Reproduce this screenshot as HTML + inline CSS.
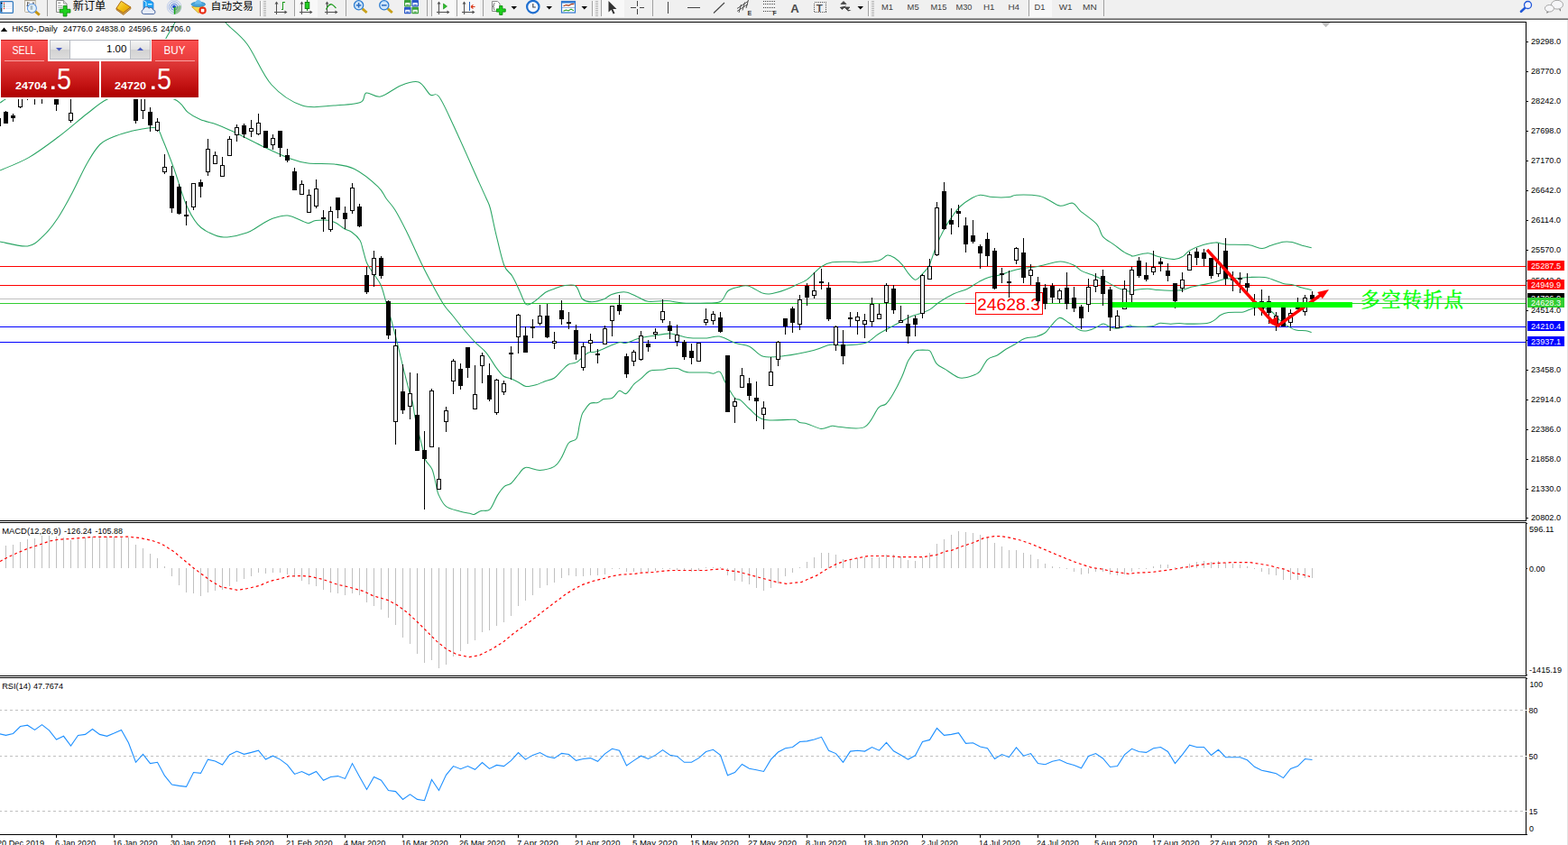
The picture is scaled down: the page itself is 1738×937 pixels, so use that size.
<!DOCTYPE html>
<html><head><meta charset="utf-8"><title>HK50 Daily</title><style>html,body{margin:0;padding:0;background:#fff;overflow:hidden}body{width:1738px;height:937px}</style></head><body>
<svg width="1738" height="937" viewBox="0 0 1738 937" font-family="'Liberation Sans', sans-serif" style="display:block">
<defs>
<clipPath id="cm"><rect x="0" y="25" width="1691" height="552"/></clipPath>
<clipPath id="cd"><rect x="0" y="580" width="1691" height="169"/></clipPath>
<clipPath id="cr"><rect x="0" y="752" width="1691" height="173"/></clipPath>
<linearGradient id="gt" x1="0" y1="0" x2="0" y2="1"><stop offset="0" stop-color="#fb4f4f"/><stop offset="1" stop-color="#e83c3c"/></linearGradient>
<linearGradient id="gb" x1="0" y1="0" x2="0" y2="1"><stop offset="0" stop-color="#e03a3a"/><stop offset="0.55" stop-color="#c81818"/><stop offset="1" stop-color="#ae0000"/></linearGradient>
<linearGradient id="gs" x1="0" y1="0" x2="0" y2="1"><stop offset="0" stop-color="#f4f4f4"/><stop offset="0.5" stop-color="#e2e2e2"/><stop offset="0.5" stop-color="#d2d2d2"/><stop offset="1" stop-color="#dcdcdc"/></linearGradient>
</defs>
<rect x="0" y="0" width="1738" height="937" fill="#fff"/>
<g shape-rendering="crispEdges">
<rect x="0" y="295" width="1691" height="1" fill="#f00"/>
<rect x="0" y="316" width="1691" height="1" fill="#f00"/>
<rect x="0" y="331" width="1691" height="1" fill="#c0c0c0"/>
<rect x="0" y="336" width="1691" height="1" fill="#32cd32"/>
<rect x="0" y="362" width="1691" height="1" fill="#00f"/>
<rect x="0" y="379" width="1691" height="1" fill="#00f"/>
<rect x="1070" y="336" width="12" height="1" fill="#f00"/>
<rect x="1081.5" y="324.5" width="74" height="24" fill="#fff" stroke="#f00" stroke-width="1"/>
</g>
<text x="1083" y="344" font-size="19.2" fill="#f00" textLength="70" lengthAdjust="spacingAndGlyphs">24628.3</text>
<g clip-path="url(#cm)" fill="none" stroke="#2aa564" stroke-width="1.05">
<path d="M0.0 114.0C0.5 113.7 2.0 112.7 3.0 112.0C4.0 111.3 4.5 111.0 6.0 110.0C7.5 109.0 -12.0 108.5 12.0 106.0C36.0 103.5 122.8 102.7 150.0 95.0C177.2 87.3 169.2 68.9 175.0 60.0C180.8 51.1 181.3 47.3 184.5 41.5C187.7 35.7 191.4 29.6 194.0 25.0C196.6 20.4 194.8 21.5 200.0 14.0C205.2 6.5 217.8 -19.3 225.0 -20.0C232.2 -20.7 238.8 2.5 243.0 10.0C247.2 17.5 244.8 18.5 250.0 25.0C255.2 31.5 265.5 37.5 274.0 49.0C282.5 60.5 290.8 82.7 301.0 94.0C311.2 105.3 323.5 113.2 335.0 117.0C346.5 120.8 359.2 117.6 370.0 117.0C380.8 116.4 393.5 115.8 399.5 113.5C405.5 111.2 402.2 104.1 406.0 103.0C409.8 101.9 415.6 108.4 422.0 107.0C428.4 105.6 437.6 97.4 444.6 94.7C451.6 92.0 458.6 89.3 464.0 91.0C469.4 92.7 473.1 102.3 476.8 105.0C480.6 107.7 482.2 101.3 486.5 107.0C490.8 112.7 495.1 122.9 502.6 139.0C510.1 155.1 525.5 190.1 531.6 203.6C537.7 217.1 537.0 215.4 539.0 220.0C541.0 224.6 541.6 224.5 543.4 231.0C545.2 237.5 547.0 248.3 549.6 258.8C552.2 269.3 555.7 286.1 558.7 294.0C561.7 301.9 564.8 301.2 567.7 306.0C570.6 310.8 573.5 317.5 576.0 322.7C578.5 327.9 580.4 335.2 583.0 337.3C585.6 339.4 587.7 337.2 591.4 335.0C595.1 332.8 601.1 326.5 605.0 324.0C608.9 321.5 611.8 321.2 615.0 320.0C618.2 318.8 620.2 317.5 624.0 317.0C627.8 316.5 634.4 314.6 638.0 317.0C641.6 319.4 642.5 328.6 645.5 331.5C648.5 334.4 652.0 334.7 656.0 334.7C660.0 334.7 666.1 332.9 669.8 331.5C673.5 330.1 674.1 327.7 678.0 326.4C681.9 325.1 688.5 323.4 693.4 323.9C698.3 324.4 703.1 327.7 707.2 329.4C711.4 331.1 713.0 333.6 718.3 334.3C723.6 335.0 732.5 333.3 739.0 333.6C745.5 333.9 749.8 335.6 757.2 336.0C764.6 336.4 776.6 336.3 783.5 336.0C790.4 335.7 794.9 336.6 798.8 334.3C802.7 332.1 803.8 325.2 807.0 322.5C810.2 319.8 814.5 319.2 818.2 318.3C821.9 317.4 824.7 315.8 829.3 317.0C833.9 318.2 841.5 323.9 846.0 325.3C850.5 326.7 852.0 326.1 856.0 325.5C860.0 324.9 865.3 323.3 869.9 321.6C874.5 319.9 879.6 317.4 883.7 315.4C887.9 313.4 890.4 313.0 894.8 309.8C899.2 306.6 905.4 299.2 910.0 296.0C914.6 292.8 916.6 291.6 922.6 290.7C928.6 289.8 941.1 290.3 946.2 290.4C951.3 290.4 948.4 291.2 953.0 291.0C957.6 290.8 968.8 290.3 973.9 289.0C979.0 287.7 980.6 283.5 983.6 283.0C986.6 282.5 989.2 284.4 992.0 286.2C994.8 288.0 997.8 291.0 1000.3 293.9C1002.8 296.8 1004.8 300.9 1007.2 303.6C1009.6 306.3 1012.4 310.2 1014.9 310.2C1017.4 310.2 1020.2 305.9 1022.5 303.6C1024.8 301.3 1027.3 298.5 1028.7 296.6C1030.1 294.7 1029.5 296.0 1031.0 292.0C1032.5 288.0 1035.4 278.9 1037.9 272.7C1040.4 266.5 1043.2 260.2 1046.2 254.7C1049.2 249.1 1052.9 243.7 1055.9 239.4C1058.9 235.1 1060.7 232.2 1064.2 229.0C1067.7 225.8 1073.0 222.1 1076.7 220.0C1080.4 217.9 1082.5 216.4 1086.4 216.2C1090.3 216.0 1095.0 218.2 1100.3 218.6C1105.6 219.0 1113.9 219.0 1118.3 218.6C1122.7 218.2 1121.2 216.4 1126.7 216.2C1132.2 216.0 1145.6 216.2 1151.6 217.2C1157.6 218.2 1158.8 220.2 1162.7 222.0C1166.6 223.8 1170.8 227.8 1175.2 228.3C1179.6 228.8 1185.3 224.3 1189.0 225.2C1192.7 226.1 1193.0 229.9 1197.4 233.8C1201.8 237.7 1211.3 243.7 1215.5 248.4C1219.7 253.2 1219.2 258.5 1222.4 262.3C1225.6 266.1 1231.0 268.4 1234.9 271.3C1238.8 274.2 1242.8 277.6 1246.0 279.6C1249.2 281.6 1252.6 282.7 1254.3 283.4C1256.0 284.1 1253.0 284.3 1256.0 283.9C1259.0 283.4 1268.0 280.6 1272.6 280.7C1277.2 280.8 1278.8 283.5 1283.7 284.6C1288.6 285.8 1297.2 287.7 1301.8 287.6C1306.4 287.5 1308.7 285.7 1311.5 284.1C1314.3 282.5 1314.7 280.0 1318.4 277.9C1322.1 275.8 1328.8 273.1 1333.7 271.6C1338.6 270.1 1343.4 269.0 1347.6 268.9C1351.8 268.8 1352.7 270.6 1358.7 271.0C1364.7 271.4 1376.9 270.9 1383.6 271.6C1390.3 272.4 1394.7 275.4 1398.9 275.5C1403.1 275.6 1404.7 273.5 1408.6 272.3C1412.5 271.1 1418.6 268.8 1422.5 268.2C1426.4 267.6 1428.7 267.8 1432.2 268.5C1435.7 269.2 1439.7 271.3 1443.3 272.3C1446.9 273.3 1452.0 274.3 1453.7 274.7"/>
<path d="M0.0 189.0C5.3 186.6 21.3 180.8 32.0 174.6C42.7 168.4 53.6 160.1 64.4 152.0C75.2 143.9 87.5 133.0 96.6 126.0C105.7 119.0 110.1 114.3 119.0 110.0C127.9 105.7 137.7 100.0 150.0 100.0C162.3 100.0 183.3 106.0 193.0 110.0C202.7 114.0 203.2 120.5 208.0 124.3C212.8 128.1 216.7 130.3 222.0 132.6C227.3 134.9 234.1 135.8 240.0 138.0C245.9 140.2 249.4 141.7 257.7 145.6C266.0 149.5 279.3 156.6 290.0 161.7C300.7 166.8 313.4 172.8 322.0 176.0C330.6 179.2 333.4 180.0 341.5 181.0C349.6 182.0 361.9 180.9 370.5 182.0C379.1 183.1 384.9 183.4 393.0 187.5C401.1 191.6 413.0 201.4 418.8 206.8C424.6 212.2 424.8 215.6 428.0 220.0C431.2 224.4 434.2 226.8 438.0 233.0C441.8 239.2 446.0 247.4 451.0 257.5C456.0 267.6 463.0 283.6 467.8 293.5C472.6 303.4 476.0 309.6 480.0 317.0C484.0 324.4 488.4 332.5 492.0 338.0C495.6 343.5 498.6 346.1 501.8 350.0C505.0 353.9 507.1 356.9 511.0 361.6C515.0 366.3 520.9 373.4 525.5 378.3C530.1 383.2 534.7 386.0 538.7 390.8C542.8 395.6 546.6 403.0 549.8 407.4C553.0 411.8 555.2 414.9 558.0 417.0C560.8 419.1 563.7 418.8 566.5 420.0C569.3 421.2 572.0 422.6 574.8 424.0C577.5 425.4 579.8 428.0 583.0 428.5C586.2 429.0 590.8 427.7 594.0 426.8C597.2 425.9 599.1 424.7 602.5 423.4C605.9 422.1 611.0 421.2 614.3 419.2C617.5 417.2 619.3 414.1 622.0 411.6C624.7 409.1 627.4 405.7 630.3 404.0C633.2 402.3 635.7 403.7 639.3 401.6C642.9 399.5 648.0 393.2 651.7 391.2C655.4 389.2 656.0 391.7 661.5 389.8C667.0 387.9 679.7 381.6 685.0 380.0C690.3 378.4 689.7 381.2 693.4 380.5C697.1 379.8 702.1 376.9 707.2 375.5C712.3 374.1 717.9 373.3 723.9 372.4C729.9 371.5 736.8 369.5 743.3 369.9C749.8 370.2 756.0 373.7 762.7 374.5C769.4 375.3 777.7 375.1 783.5 374.9C789.3 374.7 792.1 372.2 797.4 373.1C802.7 374.0 809.8 378.6 815.4 380.5C821.0 382.4 825.7 381.7 830.8 384.2C835.9 386.7 839.5 393.6 846.0 395.3C852.5 397.0 860.4 395.7 869.7 394.6C879.0 393.5 893.9 390.4 901.8 388.5C909.7 386.6 913.1 384.1 917.0 383.0C920.9 381.9 922.6 382.0 925.4 382.0C928.2 382.0 928.2 383.2 933.7 383.0C939.2 382.8 952.0 382.7 958.7 380.6C965.4 378.5 967.9 373.8 973.9 370.2C979.9 366.6 988.9 361.9 994.7 358.8C1000.5 355.7 1004.4 353.2 1008.6 351.4C1012.8 349.5 1016.0 349.1 1019.7 347.7C1023.4 346.3 1027.3 345.1 1030.8 343.1C1034.3 341.1 1036.1 338.4 1040.5 335.5C1044.9 332.6 1051.9 328.4 1057.2 325.8C1062.5 323.2 1067.8 322.4 1072.4 320.2C1077.0 318.0 1081.0 314.7 1084.9 312.6C1088.9 310.5 1091.9 308.7 1096.1 307.4C1100.3 306.1 1105.8 305.8 1110.0 304.6C1114.2 303.4 1117.4 301.5 1121.1 300.4C1124.8 299.2 1128.0 298.4 1132.2 297.7C1136.4 297.0 1142.3 296.8 1146.0 296.3C1149.7 295.8 1149.5 295.7 1154.4 294.6C1159.3 293.6 1169.2 290.1 1175.2 290.0C1181.2 289.9 1186.6 292.5 1190.5 294.2C1194.4 295.9 1195.6 298.7 1198.8 300.4C1202.0 302.1 1206.2 303.1 1209.9 304.6C1213.6 306.1 1216.8 307.3 1220.9 309.4C1225.0 311.5 1231.0 315.1 1234.7 317.0C1238.4 318.9 1240.0 319.8 1243.0 320.8C1246.0 321.9 1250.0 323.2 1252.8 323.3C1255.6 323.4 1256.4 321.7 1259.7 321.2C1263.0 320.7 1268.6 320.1 1272.6 320.2C1276.6 320.3 1279.3 321.2 1283.7 321.6C1288.1 322.0 1294.4 322.4 1299.0 322.3C1303.6 322.2 1307.8 322.0 1311.5 321.3C1315.2 320.6 1317.5 319.1 1321.2 318.1C1324.9 317.2 1329.8 316.4 1333.7 315.6C1337.6 314.8 1341.1 314.3 1344.8 313.3C1348.5 312.3 1352.2 310.6 1355.9 309.8C1359.6 309.1 1361.9 309.2 1367.0 308.8C1372.1 308.4 1380.6 307.6 1386.4 307.4C1392.2 307.2 1397.8 307.0 1401.7 307.4C1405.6 307.8 1406.5 308.6 1410.0 309.8C1413.5 311.0 1418.6 313.4 1422.5 314.4C1426.4 315.4 1430.1 315.2 1433.6 316.0C1437.1 316.8 1439.9 318.2 1443.3 319.1C1446.7 320.0 1452.0 321.2 1453.7 321.6"/>
<path d="M0.0 268.0C5.1 268.8 22.6 274.0 30.6 272.9C38.6 271.8 42.4 266.8 48.0 261.6C53.6 256.5 58.6 250.1 64.0 242.0C69.4 233.9 75.1 223.2 80.5 213.0C85.9 202.8 91.5 189.8 96.6 181.0C101.7 172.2 105.6 165.1 111.0 160.0C116.4 154.9 123.3 152.9 129.0 150.5C134.7 148.1 139.7 146.9 145.0 145.6C150.3 144.2 156.2 142.9 161.0 142.4C165.8 141.9 170.8 140.3 174.0 142.4C177.2 144.5 177.2 147.5 180.4 155.0C183.6 162.5 188.7 175.7 193.0 187.5C197.3 199.3 201.7 215.8 206.0 226.0C210.3 236.2 214.7 243.4 219.0 248.7C223.3 254.0 227.2 255.6 232.0 258.0C236.8 260.4 241.0 263.0 248.0 263.0C255.0 263.0 266.8 260.4 273.8 258.0C280.8 255.6 285.2 251.4 290.0 248.7C294.8 246.0 298.0 243.6 302.8 242.0C307.6 240.4 313.5 238.4 319.0 239.0C324.5 239.6 332.2 244.0 336.0 245.4C339.8 246.8 339.7 247.6 342.0 247.5C344.3 247.4 346.4 245.1 350.0 244.6C353.6 244.1 360.0 243.9 363.7 244.3C367.4 244.7 369.0 245.4 372.0 247.0C375.0 248.6 378.8 251.9 381.8 253.7C384.8 255.4 387.1 255.4 390.0 257.5C392.9 259.6 396.9 263.1 399.0 266.5C401.1 269.9 401.3 273.8 402.6 278.0C403.9 282.2 405.0 287.8 406.8 292.0C408.6 296.2 411.2 299.1 413.7 303.0C416.2 306.9 419.7 310.6 422.0 315.7C424.3 320.8 425.7 327.5 427.6 333.8C429.5 340.1 431.2 345.7 433.3 353.3C435.4 360.9 437.9 370.4 440.2 379.7C442.5 388.9 444.9 399.6 447.2 408.8C449.5 418.0 452.3 428.6 454.0 435.0C455.7 441.4 456.7 442.7 457.6 447.0C458.6 451.3 458.4 454.6 459.7 460.8C461.0 467.0 463.6 477.7 465.2 484.4C466.8 491.1 468.3 496.6 469.4 501.0C470.5 505.4 470.4 507.6 472.0 510.8C473.6 514.0 477.1 516.1 479.0 520.5C480.9 524.9 482.0 532.4 483.2 537.0C484.4 541.6 484.1 544.1 486.0 548.2C487.9 552.3 490.4 558.3 494.3 561.4C498.2 564.5 505.0 565.6 509.6 567.0C514.2 568.4 519.4 569.1 522.0 569.7C524.6 570.3 523.6 570.9 525.5 570.4C527.4 569.9 530.3 567.4 533.2 566.5C536.1 565.6 540.0 567.7 543.0 564.9C546.0 562.1 548.6 553.8 551.2 549.6C553.8 545.4 556.2 541.9 558.8 539.6C561.3 537.3 563.8 538.3 566.5 536.0C569.2 533.7 572.1 528.9 574.8 526.0C577.4 523.1 578.5 519.2 582.4 518.4C586.3 517.6 593.1 521.6 598.4 521.4C603.7 521.2 610.4 519.6 614.3 517.4C618.2 515.2 619.3 512.4 622.0 508.0C624.7 503.6 627.5 494.9 630.3 491.3C633.1 487.7 636.9 489.9 638.9 486.5C640.9 483.1 641.3 475.6 642.3 471.1C643.3 466.6 644.1 462.3 645.1 459.6C646.1 456.9 646.5 456.9 648.0 454.8C649.5 452.8 651.9 448.7 654.3 447.3C656.7 445.9 659.9 447.2 662.4 446.4C664.9 445.6 666.5 443.5 669.2 442.6C671.9 441.8 675.9 442.9 678.8 441.3C681.7 439.8 684.0 434.1 686.5 433.3C689.0 432.5 691.4 437.7 694.1 436.5C696.8 435.3 700.2 428.5 702.8 425.9C705.4 423.3 706.8 423.0 709.5 420.7C712.2 418.4 716.5 413.7 719.1 412.0C721.7 410.3 722.2 410.7 724.9 410.4C727.6 410.1 732.7 410.4 735.4 410.1C738.1 409.8 738.6 408.9 741.2 408.6C743.8 408.4 748.1 408.1 750.8 408.6C753.5 409.1 755.3 410.8 757.5 411.5C759.7 412.2 759.7 412.8 764.0 413.0C768.3 413.2 779.1 412.8 783.5 413.0C787.9 413.2 788.1 414.4 790.5 414.3C792.9 414.2 795.8 410.8 798.0 412.4C800.2 414.0 801.1 418.9 803.8 423.7C806.5 428.5 811.3 437.6 814.2 441.0C817.1 444.4 818.2 441.7 821.0 443.8C823.8 445.9 826.5 449.9 830.8 453.5C835.1 457.1 838.7 463.3 846.8 465.3C854.9 467.3 872.8 464.8 879.4 465.3C886.0 465.8 883.8 467.7 886.3 468.5C888.8 469.3 890.8 468.8 894.7 469.9C898.7 471.0 905.4 475.0 910.0 475.4C914.6 475.8 918.7 472.6 922.4 472.3C926.1 472.0 926.0 473.4 932.0 473.6C938.0 473.8 951.5 477.0 958.5 473.4C965.5 469.8 969.8 456.3 973.7 452.1C977.6 447.9 979.3 450.6 982.0 448.0C984.7 445.4 987.1 441.8 990.0 436.8C992.9 431.8 997.0 423.7 999.6 418.0C1002.2 412.3 1004.0 406.0 1005.4 402.7C1006.8 399.4 1006.4 400.5 1007.8 398.3C1009.2 396.1 1012.2 391.4 1014.0 389.7C1015.8 388.0 1016.7 388.5 1018.8 388.3C1020.9 388.1 1024.4 388.1 1026.5 388.3C1028.6 388.5 1029.4 387.2 1031.3 389.7C1033.2 392.2 1035.3 399.8 1038.0 403.1C1040.7 406.4 1043.6 406.8 1047.6 409.4C1051.6 412.0 1058.0 417.0 1062.0 418.5C1066.0 420.0 1068.8 418.9 1071.7 418.5C1074.6 418.1 1076.9 417.2 1079.3 416.1C1081.7 415.0 1083.5 414.7 1086.1 411.8C1088.7 408.9 1091.5 401.6 1094.7 398.6C1097.9 395.6 1101.9 395.9 1105.3 394.0C1108.7 392.1 1111.7 389.3 1114.9 387.3C1118.1 385.3 1121.0 384.0 1124.5 382.0C1128.0 380.0 1132.0 376.8 1136.0 375.3C1140.0 373.8 1145.0 374.2 1148.7 373.2C1152.4 372.1 1155.6 371.1 1158.4 369.0C1161.2 366.9 1162.7 363.6 1165.4 360.8C1168.1 358.0 1171.2 352.9 1174.4 352.4C1177.6 351.9 1181.0 355.7 1184.8 358.0C1188.6 360.3 1193.6 364.9 1197.3 366.3C1201.0 367.7 1204.0 366.9 1207.0 366.3C1210.0 365.7 1212.6 364.0 1215.3 362.8C1218.0 361.6 1220.7 359.1 1223.0 359.0C1225.3 358.9 1227.0 361.2 1229.2 362.1C1231.4 363.0 1233.8 364.0 1236.1 364.2C1238.4 364.4 1240.2 364.1 1243.0 363.5C1245.8 362.9 1250.6 361.0 1252.8 360.8C1255.0 360.6 1252.0 361.9 1256.0 362.1C1260.0 362.3 1272.0 362.4 1276.8 361.8C1281.6 361.2 1281.6 358.8 1285.1 358.4C1288.6 358.0 1293.9 359.3 1297.6 359.3C1301.3 359.3 1304.3 358.4 1307.3 358.4C1310.3 358.4 1310.6 359.1 1315.7 359.1C1320.8 359.1 1332.8 359.1 1337.9 358.4C1343.0 357.7 1343.7 356.4 1346.2 354.9C1348.7 353.4 1350.6 350.7 1353.1 349.3C1355.6 347.9 1357.2 347.2 1361.4 346.6C1365.6 346.0 1373.5 346.7 1378.1 345.9C1382.7 345.1 1385.5 342.5 1389.2 341.7C1392.9 340.9 1396.5 340.3 1400.0 341.0C1403.5 341.7 1407.0 343.7 1410.0 346.0C1413.0 348.3 1415.5 352.4 1418.3 354.9C1421.1 357.4 1423.6 359.2 1426.6 361.1C1429.6 363.0 1432.9 365.1 1436.4 366.0C1439.9 366.9 1444.6 366.3 1447.5 366.7C1450.4 367.1 1452.7 368.2 1453.7 368.5"/>
</g>
<g shape-rendering="crispEdges" clip-path="url(#cm)">
<rect x="-2" y="131" width="1" height="9" fill="#000"/>
<rect x="-4" y="131" width="5" height="9" fill="#000"/>
<rect x="6" y="123" width="1" height="14" fill="#000"/>
<rect x="4" y="124" width="5" height="13" fill="#000"/>
<rect x="14" y="126" width="1" height="9" fill="#000"/>
<rect x="12" y="128" width="5" height="3" fill="#000"/>
<rect x="22" y="100" width="1" height="20" fill="#000"/>
<rect x="20" y="100" width="5" height="19" fill="#000"/>
<rect x="21" y="101" width="3" height="17" fill="#fff"/>
<rect x="30" y="100" width="1" height="11" fill="#000"/>
<rect x="28" y="100" width="5" height="5" fill="#000"/>
<rect x="29" y="101" width="3" height="3" fill="#fff"/>
<rect x="38" y="100" width="1" height="16" fill="#000"/>
<rect x="36" y="100" width="5" height="8" fill="#000"/>
<rect x="37" y="101" width="3" height="6" fill="#fff"/>
<rect x="46" y="100" width="1" height="15" fill="#000"/>
<rect x="44" y="100" width="5" height="8" fill="#000"/>
<rect x="45" y="101" width="3" height="6" fill="#fff"/>
<rect x="62" y="100" width="1" height="23" fill="#000"/>
<rect x="60" y="100" width="5" height="16" fill="#000"/>
<rect x="78" y="100" width="1" height="36" fill="#000"/>
<rect x="76" y="125" width="5" height="9" fill="#000"/>
<rect x="77" y="126" width="3" height="7" fill="#fff"/>
<rect x="150" y="100" width="1" height="37" fill="#000"/>
<rect x="148" y="100" width="5" height="34" fill="#000"/>
<rect x="158" y="100" width="1" height="32" fill="#000"/>
<rect x="156" y="100" width="5" height="23" fill="#000"/>
<rect x="157" y="101" width="3" height="21" fill="#fff"/>
<rect x="166" y="119" width="1" height="27" fill="#000"/>
<rect x="164" y="124" width="5" height="15" fill="#000"/>
<rect x="174" y="131" width="1" height="15" fill="#000"/>
<rect x="172" y="135" width="5" height="10" fill="#000"/>
<rect x="173" y="136" width="3" height="8" fill="#fff"/>
<rect x="182" y="171" width="1" height="22" fill="#000"/>
<rect x="180" y="185" width="5" height="6" fill="#000"/>
<rect x="181" y="186" width="3" height="4" fill="#fff"/>
<rect x="190" y="184" width="1" height="52" fill="#000"/>
<rect x="188" y="195" width="5" height="36" fill="#000"/>
<rect x="198" y="204" width="1" height="34" fill="#000"/>
<rect x="196" y="207" width="5" height="30" fill="#000"/>
<rect x="206" y="223" width="1" height="27" fill="#000"/>
<rect x="204" y="238" width="5" height="2" fill="#000"/>
<rect x="214" y="203" width="1" height="30" fill="#000"/>
<rect x="212" y="203" width="5" height="27" fill="#000"/>
<rect x="213" y="204" width="3" height="25" fill="#fff"/>
<rect x="222" y="199" width="1" height="20" fill="#000"/>
<rect x="220" y="202" width="5" height="5" fill="#000"/>
<rect x="230" y="154" width="1" height="41" fill="#000"/>
<rect x="228" y="165" width="5" height="26" fill="#000"/>
<rect x="229" y="166" width="3" height="24" fill="#fff"/>
<rect x="238" y="168" width="1" height="14" fill="#000"/>
<rect x="236" y="172" width="5" height="10" fill="#000"/>
<rect x="237" y="173" width="3" height="8" fill="#fff"/>
<rect x="246" y="174" width="1" height="22" fill="#000"/>
<rect x="244" y="183" width="5" height="13" fill="#000"/>
<rect x="245" y="184" width="3" height="11" fill="#fff"/>
<rect x="254" y="151" width="1" height="22" fill="#000"/>
<rect x="252" y="154" width="5" height="19" fill="#000"/>
<rect x="253" y="155" width="3" height="17" fill="#fff"/>
<rect x="262" y="138" width="1" height="19" fill="#000"/>
<rect x="260" y="141" width="5" height="9" fill="#000"/>
<rect x="261" y="142" width="3" height="7" fill="#fff"/>
<rect x="270" y="137" width="1" height="16" fill="#000"/>
<rect x="268" y="139" width="5" height="10" fill="#000"/>
<rect x="278" y="133" width="1" height="19" fill="#000"/>
<rect x="276" y="142" width="5" height="4" fill="#000"/>
<rect x="277" y="143" width="3" height="2" fill="#fff"/>
<rect x="286" y="126" width="1" height="24" fill="#000"/>
<rect x="284" y="136" width="5" height="13" fill="#000"/>
<rect x="285" y="137" width="3" height="11" fill="#fff"/>
<rect x="294" y="145" width="1" height="19" fill="#000"/>
<rect x="292" y="145" width="5" height="19" fill="#000"/>
<rect x="302" y="149" width="1" height="17" fill="#000"/>
<rect x="300" y="153" width="5" height="8" fill="#000"/>
<rect x="301" y="154" width="3" height="6" fill="#fff"/>
<rect x="310" y="145" width="1" height="29" fill="#000"/>
<rect x="308" y="145" width="5" height="19" fill="#000"/>
<rect x="318" y="165" width="1" height="15" fill="#000"/>
<rect x="316" y="172" width="5" height="6" fill="#000"/>
<rect x="326" y="186" width="1" height="25" fill="#000"/>
<rect x="324" y="190" width="5" height="21" fill="#000"/>
<rect x="334" y="200" width="1" height="16" fill="#000"/>
<rect x="332" y="204" width="5" height="12" fill="#000"/>
<rect x="333" y="205" width="3" height="10" fill="#fff"/>
<rect x="342" y="210" width="1" height="26" fill="#000"/>
<rect x="340" y="216" width="5" height="20" fill="#000"/>
<rect x="341" y="217" width="3" height="18" fill="#fff"/>
<rect x="350" y="199" width="1" height="32" fill="#000"/>
<rect x="348" y="209" width="5" height="20" fill="#000"/>
<rect x="349" y="210" width="3" height="18" fill="#fff"/>
<rect x="358" y="233" width="1" height="24" fill="#000"/>
<rect x="356" y="241" width="5" height="2" fill="#000"/>
<rect x="366" y="229" width="1" height="28" fill="#000"/>
<rect x="364" y="234" width="5" height="21" fill="#000"/>
<rect x="365" y="235" width="3" height="19" fill="#fff"/>
<rect x="374" y="219" width="1" height="23" fill="#000"/>
<rect x="372" y="219" width="5" height="14" fill="#000"/>
<rect x="382" y="229" width="1" height="25" fill="#000"/>
<rect x="380" y="236" width="5" height="7" fill="#000"/>
<rect x="390" y="203" width="1" height="34" fill="#000"/>
<rect x="388" y="208" width="5" height="26" fill="#000"/>
<rect x="389" y="209" width="3" height="24" fill="#fff"/>
<rect x="398" y="226" width="1" height="26" fill="#000"/>
<rect x="396" y="229" width="5" height="22" fill="#000"/>
<rect x="406" y="296" width="1" height="30" fill="#000"/>
<rect x="404" y="305" width="5" height="19" fill="#000"/>
<rect x="414" y="278" width="1" height="40" fill="#000"/>
<rect x="412" y="286" width="5" height="19" fill="#000"/>
<rect x="413" y="287" width="3" height="17" fill="#fff"/>
<rect x="422" y="284" width="1" height="25" fill="#000"/>
<rect x="420" y="286" width="5" height="20" fill="#000"/>
<rect x="430" y="333" width="1" height="43" fill="#000"/>
<rect x="428" y="334" width="5" height="38" fill="#000"/>
<rect x="438" y="365" width="1" height="128" fill="#000"/>
<rect x="436" y="383" width="5" height="85" fill="#000"/>
<rect x="437" y="384" width="3" height="83" fill="#fff"/>
<rect x="446" y="404" width="1" height="55" fill="#000"/>
<rect x="444" y="434" width="5" height="21" fill="#000"/>
<rect x="454" y="413" width="1" height="52" fill="#000"/>
<rect x="452" y="436" width="5" height="15" fill="#000"/>
<rect x="453" y="437" width="3" height="13" fill="#fff"/>
<rect x="462" y="414" width="1" height="86" fill="#000"/>
<rect x="460" y="460" width="5" height="40" fill="#000"/>
<rect x="470" y="478" width="1" height="87" fill="#000"/>
<rect x="468" y="499" width="5" height="10" fill="#000"/>
<rect x="478" y="431" width="1" height="65" fill="#000"/>
<rect x="476" y="433" width="5" height="63" fill="#000"/>
<rect x="477" y="434" width="3" height="61" fill="#fff"/>
<rect x="486" y="496" width="1" height="47" fill="#000"/>
<rect x="484" y="531" width="5" height="12" fill="#000"/>
<rect x="485" y="532" width="3" height="10" fill="#fff"/>
<rect x="494" y="451" width="1" height="28" fill="#000"/>
<rect x="492" y="455" width="5" height="13" fill="#000"/>
<rect x="493" y="456" width="3" height="11" fill="#fff"/>
<rect x="502" y="398" width="1" height="39" fill="#000"/>
<rect x="500" y="400" width="5" height="23" fill="#000"/>
<rect x="501" y="401" width="3" height="21" fill="#fff"/>
<rect x="510" y="403" width="1" height="29" fill="#000"/>
<rect x="508" y="409" width="5" height="19" fill="#000"/>
<rect x="518" y="385" width="1" height="34" fill="#000"/>
<rect x="516" y="385" width="5" height="23" fill="#000"/>
<rect x="526" y="405" width="1" height="49" fill="#000"/>
<rect x="524" y="437" width="5" height="17" fill="#000"/>
<rect x="525" y="438" width="3" height="15" fill="#fff"/>
<rect x="534" y="391" width="1" height="34" fill="#000"/>
<rect x="532" y="394" width="5" height="12" fill="#000"/>
<rect x="533" y="395" width="3" height="10" fill="#fff"/>
<rect x="542" y="403" width="1" height="42" fill="#000"/>
<rect x="540" y="416" width="5" height="27" fill="#000"/>
<rect x="550" y="420" width="1" height="40" fill="#000"/>
<rect x="548" y="421" width="5" height="37" fill="#000"/>
<rect x="549" y="422" width="3" height="35" fill="#fff"/>
<rect x="558" y="422" width="1" height="16" fill="#000"/>
<rect x="556" y="425" width="5" height="10" fill="#000"/>
<rect x="557" y="426" width="3" height="8" fill="#fff"/>
<rect x="566" y="384" width="1" height="37" fill="#000"/>
<rect x="564" y="391" width="5" height="2" fill="#000"/>
<rect x="574" y="348" width="1" height="44" fill="#000"/>
<rect x="572" y="349" width="5" height="25" fill="#000"/>
<rect x="573" y="350" width="3" height="23" fill="#fff"/>
<rect x="582" y="362" width="1" height="29" fill="#000"/>
<rect x="580" y="372" width="5" height="19" fill="#000"/>
<rect x="590" y="354" width="1" height="21" fill="#000"/>
<rect x="588" y="362" width="5" height="2" fill="#000"/>
<rect x="598" y="338" width="1" height="23" fill="#000"/>
<rect x="596" y="350" width="5" height="9" fill="#000"/>
<rect x="597" y="351" width="3" height="7" fill="#fff"/>
<rect x="606" y="337" width="1" height="38" fill="#000"/>
<rect x="604" y="350" width="5" height="24" fill="#000"/>
<rect x="614" y="368" width="1" height="19" fill="#000"/>
<rect x="612" y="378" width="5" height="3" fill="#000"/>
<rect x="613" y="379" width="3" height="1" fill="#fff"/>
<rect x="622" y="333" width="1" height="27" fill="#000"/>
<rect x="620" y="344" width="5" height="10" fill="#000"/>
<rect x="630" y="346" width="1" height="19" fill="#000"/>
<rect x="628" y="357" width="5" height="2" fill="#000"/>
<rect x="638" y="360" width="1" height="39" fill="#000"/>
<rect x="636" y="366" width="5" height="27" fill="#000"/>
<rect x="646" y="380" width="1" height="31" fill="#000"/>
<rect x="644" y="384" width="5" height="24" fill="#000"/>
<rect x="645" y="385" width="3" height="22" fill="#fff"/>
<rect x="654" y="370" width="1" height="20" fill="#000"/>
<rect x="652" y="377" width="5" height="4" fill="#000"/>
<rect x="653" y="378" width="3" height="2" fill="#fff"/>
<rect x="662" y="387" width="1" height="16" fill="#000"/>
<rect x="660" y="392" width="5" height="2" fill="#000"/>
<rect x="670" y="361" width="1" height="21" fill="#000"/>
<rect x="668" y="364" width="5" height="18" fill="#000"/>
<rect x="669" y="365" width="3" height="16" fill="#fff"/>
<rect x="678" y="339" width="1" height="34" fill="#000"/>
<rect x="676" y="339" width="5" height="17" fill="#000"/>
<rect x="677" y="340" width="3" height="15" fill="#fff"/>
<rect x="686" y="327" width="1" height="22" fill="#000"/>
<rect x="684" y="338" width="5" height="7" fill="#000"/>
<rect x="694" y="392" width="1" height="27" fill="#000"/>
<rect x="692" y="395" width="5" height="20" fill="#000"/>
<rect x="702" y="388" width="1" height="18" fill="#000"/>
<rect x="700" y="390" width="5" height="11" fill="#000"/>
<rect x="701" y="391" width="3" height="9" fill="#fff"/>
<rect x="710" y="367" width="1" height="33" fill="#000"/>
<rect x="708" y="372" width="5" height="27" fill="#000"/>
<rect x="709" y="373" width="3" height="25" fill="#fff"/>
<rect x="718" y="377" width="1" height="13" fill="#000"/>
<rect x="716" y="381" width="5" height="4" fill="#000"/>
<rect x="726" y="364" width="1" height="12" fill="#000"/>
<rect x="724" y="368" width="5" height="3" fill="#000"/>
<rect x="725" y="369" width="3" height="1" fill="#fff"/>
<rect x="734" y="332" width="1" height="26" fill="#000"/>
<rect x="732" y="345" width="5" height="10" fill="#000"/>
<rect x="733" y="346" width="3" height="8" fill="#fff"/>
<rect x="742" y="356" width="1" height="20" fill="#000"/>
<rect x="740" y="361" width="5" height="6" fill="#000"/>
<rect x="750" y="360" width="1" height="24" fill="#000"/>
<rect x="748" y="371" width="5" height="8" fill="#000"/>
<rect x="749" y="372" width="3" height="6" fill="#fff"/>
<rect x="758" y="377" width="1" height="22" fill="#000"/>
<rect x="756" y="379" width="5" height="17" fill="#000"/>
<rect x="766" y="381" width="1" height="23" fill="#000"/>
<rect x="764" y="389" width="5" height="8" fill="#000"/>
<rect x="774" y="380" width="1" height="21" fill="#000"/>
<rect x="772" y="380" width="5" height="21" fill="#000"/>
<rect x="773" y="381" width="3" height="19" fill="#fff"/>
<rect x="782" y="342" width="1" height="19" fill="#000"/>
<rect x="780" y="354" width="5" height="4" fill="#000"/>
<rect x="781" y="355" width="3" height="2" fill="#fff"/>
<rect x="790" y="345" width="1" height="15" fill="#000"/>
<rect x="788" y="348" width="5" height="8" fill="#000"/>
<rect x="789" y="349" width="3" height="6" fill="#fff"/>
<rect x="798" y="346" width="1" height="23" fill="#000"/>
<rect x="796" y="352" width="5" height="16" fill="#000"/>
<rect x="806" y="394" width="1" height="63" fill="#000"/>
<rect x="804" y="394" width="5" height="63" fill="#000"/>
<rect x="814" y="441" width="1" height="28" fill="#000"/>
<rect x="812" y="445" width="5" height="6" fill="#000"/>
<rect x="813" y="446" width="3" height="4" fill="#fff"/>
<rect x="822" y="408" width="1" height="22" fill="#000"/>
<rect x="820" y="416" width="5" height="14" fill="#000"/>
<rect x="821" y="417" width="3" height="12" fill="#fff"/>
<rect x="830" y="419" width="1" height="25" fill="#000"/>
<rect x="828" y="425" width="5" height="14" fill="#000"/>
<rect x="838" y="423" width="1" height="44" fill="#000"/>
<rect x="836" y="441" width="5" height="4" fill="#000"/>
<rect x="846" y="445" width="1" height="31" fill="#000"/>
<rect x="844" y="452" width="5" height="8" fill="#000"/>
<rect x="845" y="453" width="3" height="6" fill="#fff"/>
<rect x="854" y="396" width="1" height="32" fill="#000"/>
<rect x="852" y="412" width="5" height="16" fill="#000"/>
<rect x="853" y="413" width="3" height="14" fill="#fff"/>
<rect x="862" y="378" width="1" height="28" fill="#000"/>
<rect x="860" y="379" width="5" height="20" fill="#000"/>
<rect x="861" y="380" width="3" height="18" fill="#fff"/>
<rect x="870" y="353" width="1" height="18" fill="#000"/>
<rect x="868" y="353" width="5" height="9" fill="#000"/>
<rect x="878" y="340" width="1" height="29" fill="#000"/>
<rect x="876" y="342" width="5" height="16" fill="#000"/>
<rect x="886" y="327" width="1" height="39" fill="#000"/>
<rect x="884" y="332" width="5" height="28" fill="#000"/>
<rect x="885" y="333" width="3" height="26" fill="#fff"/>
<rect x="894" y="314" width="1" height="25" fill="#000"/>
<rect x="892" y="317" width="5" height="13" fill="#000"/>
<rect x="902" y="302" width="1" height="29" fill="#000"/>
<rect x="900" y="322" width="5" height="6" fill="#000"/>
<rect x="901" y="323" width="3" height="4" fill="#fff"/>
<rect x="910" y="298" width="1" height="23" fill="#000"/>
<rect x="908" y="312" width="5" height="2" fill="#000"/>
<rect x="918" y="313" width="1" height="43" fill="#000"/>
<rect x="916" y="319" width="5" height="35" fill="#000"/>
<rect x="926" y="361" width="1" height="28" fill="#000"/>
<rect x="924" y="362" width="5" height="21" fill="#000"/>
<rect x="925" y="363" width="3" height="19" fill="#fff"/>
<rect x="934" y="366" width="1" height="38" fill="#000"/>
<rect x="932" y="382" width="5" height="13" fill="#000"/>
<rect x="942" y="346" width="1" height="16" fill="#000"/>
<rect x="940" y="352" width="5" height="2" fill="#000"/>
<rect x="950" y="346" width="1" height="25" fill="#000"/>
<rect x="948" y="351" width="5" height="5" fill="#000"/>
<rect x="949" y="352" width="3" height="3" fill="#fff"/>
<rect x="958" y="348" width="1" height="27" fill="#000"/>
<rect x="956" y="355" width="5" height="5" fill="#000"/>
<rect x="957" y="356" width="3" height="3" fill="#fff"/>
<rect x="966" y="330" width="1" height="32" fill="#000"/>
<rect x="964" y="337" width="5" height="20" fill="#000"/>
<rect x="965" y="338" width="3" height="18" fill="#fff"/>
<rect x="974" y="337" width="1" height="17" fill="#000"/>
<rect x="972" y="348" width="5" height="6" fill="#000"/>
<rect x="973" y="349" width="3" height="4" fill="#fff"/>
<rect x="982" y="314" width="1" height="54" fill="#000"/>
<rect x="980" y="316" width="5" height="20" fill="#000"/>
<rect x="981" y="317" width="3" height="18" fill="#fff"/>
<rect x="990" y="316" width="1" height="32" fill="#000"/>
<rect x="988" y="320" width="5" height="24" fill="#000"/>
<rect x="998" y="339" width="1" height="19" fill="#000"/>
<rect x="996" y="355" width="5" height="3" fill="#000"/>
<rect x="997" y="356" width="3" height="1" fill="#fff"/>
<rect x="1006" y="349" width="1" height="32" fill="#000"/>
<rect x="1004" y="359" width="5" height="14" fill="#000"/>
<rect x="1014" y="350" width="1" height="23" fill="#000"/>
<rect x="1012" y="353" width="5" height="7" fill="#000"/>
<rect x="1022" y="304" width="1" height="49" fill="#000"/>
<rect x="1020" y="305" width="5" height="43" fill="#000"/>
<rect x="1021" y="306" width="3" height="41" fill="#fff"/>
<rect x="1030" y="287" width="1" height="23" fill="#000"/>
<rect x="1028" y="295" width="5" height="15" fill="#000"/>
<rect x="1029" y="296" width="3" height="13" fill="#fff"/>
<rect x="1038" y="224" width="1" height="60" fill="#000"/>
<rect x="1036" y="230" width="5" height="53" fill="#000"/>
<rect x="1037" y="231" width="3" height="51" fill="#fff"/>
<rect x="1046" y="202" width="1" height="53" fill="#000"/>
<rect x="1044" y="212" width="5" height="42" fill="#000"/>
<rect x="1054" y="231" width="1" height="29" fill="#000"/>
<rect x="1052" y="244" width="5" height="5" fill="#000"/>
<rect x="1062" y="227" width="1" height="25" fill="#000"/>
<rect x="1060" y="234" width="5" height="3" fill="#000"/>
<rect x="1070" y="241" width="1" height="39" fill="#000"/>
<rect x="1068" y="250" width="5" height="21" fill="#000"/>
<rect x="1078" y="244" width="1" height="26" fill="#000"/>
<rect x="1076" y="261" width="5" height="7" fill="#000"/>
<rect x="1086" y="271" width="1" height="27" fill="#000"/>
<rect x="1084" y="273" width="5" height="8" fill="#000"/>
<rect x="1094" y="258" width="1" height="37" fill="#000"/>
<rect x="1092" y="265" width="5" height="19" fill="#000"/>
<rect x="1102" y="275" width="1" height="46" fill="#000"/>
<rect x="1100" y="278" width="5" height="42" fill="#000"/>
<rect x="1110" y="297" width="1" height="17" fill="#000"/>
<rect x="1108" y="303" width="5" height="2" fill="#000"/>
<rect x="1118" y="300" width="1" height="30" fill="#000"/>
<rect x="1116" y="312" width="5" height="2" fill="#000"/>
<rect x="1126" y="274" width="1" height="19" fill="#000"/>
<rect x="1124" y="275" width="5" height="14" fill="#000"/>
<rect x="1125" y="276" width="3" height="12" fill="#fff"/>
<rect x="1134" y="264" width="1" height="50" fill="#000"/>
<rect x="1132" y="280" width="5" height="28" fill="#000"/>
<rect x="1142" y="293" width="1" height="23" fill="#000"/>
<rect x="1140" y="299" width="5" height="7" fill="#000"/>
<rect x="1141" y="300" width="3" height="5" fill="#fff"/>
<rect x="1150" y="307" width="1" height="31" fill="#000"/>
<rect x="1148" y="313" width="5" height="21" fill="#000"/>
<rect x="1158" y="315" width="1" height="28" fill="#000"/>
<rect x="1156" y="319" width="5" height="18" fill="#000"/>
<rect x="1166" y="314" width="1" height="22" fill="#000"/>
<rect x="1164" y="317" width="5" height="13" fill="#000"/>
<rect x="1174" y="320" width="1" height="16" fill="#000"/>
<rect x="1172" y="322" width="5" height="10" fill="#000"/>
<rect x="1173" y="323" width="3" height="8" fill="#fff"/>
<rect x="1182" y="302" width="1" height="41" fill="#000"/>
<rect x="1180" y="319" width="5" height="18" fill="#000"/>
<rect x="1190" y="318" width="1" height="28" fill="#000"/>
<rect x="1188" y="330" width="5" height="12" fill="#000"/>
<rect x="1198" y="338" width="1" height="27" fill="#000"/>
<rect x="1196" y="340" width="5" height="13" fill="#000"/>
<rect x="1206" y="309" width="1" height="37" fill="#000"/>
<rect x="1204" y="318" width="5" height="20" fill="#000"/>
<rect x="1205" y="319" width="3" height="18" fill="#fff"/>
<rect x="1214" y="303" width="1" height="21" fill="#000"/>
<rect x="1212" y="310" width="5" height="8" fill="#000"/>
<rect x="1213" y="311" width="3" height="6" fill="#fff"/>
<rect x="1222" y="299" width="1" height="40" fill="#000"/>
<rect x="1220" y="306" width="5" height="20" fill="#000"/>
<rect x="1230" y="318" width="1" height="49" fill="#000"/>
<rect x="1228" y="321" width="5" height="31" fill="#000"/>
<rect x="1238" y="344" width="1" height="20" fill="#000"/>
<rect x="1236" y="350" width="5" height="14" fill="#000"/>
<rect x="1237" y="351" width="3" height="12" fill="#fff"/>
<rect x="1246" y="311" width="1" height="32" fill="#000"/>
<rect x="1244" y="320" width="5" height="23" fill="#000"/>
<rect x="1245" y="321" width="3" height="21" fill="#fff"/>
<rect x="1254" y="296" width="1" height="39" fill="#000"/>
<rect x="1252" y="299" width="5" height="28" fill="#000"/>
<rect x="1253" y="300" width="3" height="26" fill="#fff"/>
<rect x="1262" y="285" width="1" height="23" fill="#000"/>
<rect x="1260" y="289" width="5" height="17" fill="#000"/>
<rect x="1270" y="291" width="1" height="21" fill="#000"/>
<rect x="1268" y="305" width="5" height="5" fill="#000"/>
<rect x="1278" y="278" width="1" height="27" fill="#000"/>
<rect x="1276" y="296" width="5" height="6" fill="#000"/>
<rect x="1277" y="297" width="3" height="4" fill="#fff"/>
<rect x="1286" y="286" width="1" height="15" fill="#000"/>
<rect x="1284" y="290" width="5" height="3" fill="#000"/>
<rect x="1294" y="292" width="1" height="20" fill="#000"/>
<rect x="1292" y="300" width="5" height="6" fill="#000"/>
<rect x="1302" y="314" width="1" height="28" fill="#000"/>
<rect x="1300" y="314" width="5" height="20" fill="#000"/>
<rect x="1310" y="302" width="1" height="22" fill="#000"/>
<rect x="1308" y="310" width="5" height="10" fill="#000"/>
<rect x="1309" y="311" width="3" height="8" fill="#fff"/>
<rect x="1318" y="279" width="1" height="21" fill="#000"/>
<rect x="1316" y="282" width="5" height="18" fill="#000"/>
<rect x="1317" y="283" width="3" height="16" fill="#fff"/>
<rect x="1326" y="275" width="1" height="19" fill="#000"/>
<rect x="1324" y="279" width="5" height="7" fill="#000"/>
<rect x="1334" y="276" width="1" height="19" fill="#000"/>
<rect x="1332" y="280" width="5" height="7" fill="#000"/>
<rect x="1342" y="286" width="1" height="23" fill="#000"/>
<rect x="1340" y="286" width="5" height="20" fill="#000"/>
<rect x="1350" y="270" width="1" height="37" fill="#000"/>
<rect x="1348" y="291" width="5" height="13" fill="#000"/>
<rect x="1349" y="292" width="3" height="11" fill="#fff"/>
<rect x="1358" y="264" width="1" height="52" fill="#000"/>
<rect x="1356" y="278" width="5" height="31" fill="#000"/>
<rect x="1366" y="301" width="1" height="22" fill="#000"/>
<rect x="1364" y="308" width="5" height="3" fill="#000"/>
<rect x="1365" y="309" width="3" height="1" fill="#fff"/>
<rect x="1374" y="302" width="1" height="23" fill="#000"/>
<rect x="1372" y="308" width="5" height="2" fill="#000"/>
<rect x="1382" y="303" width="1" height="25" fill="#000"/>
<rect x="1380" y="314" width="5" height="5" fill="#000"/>
<rect x="1390" y="326" width="1" height="24" fill="#000"/>
<rect x="1388" y="334" width="5" height="3" fill="#000"/>
<rect x="1398" y="321" width="1" height="29" fill="#000"/>
<rect x="1396" y="334" width="5" height="10" fill="#000"/>
<rect x="1406" y="328" width="1" height="31" fill="#000"/>
<rect x="1404" y="334" width="5" height="13" fill="#000"/>
<rect x="1414" y="346" width="1" height="21" fill="#000"/>
<rect x="1412" y="350" width="5" height="11" fill="#000"/>
<rect x="1413" y="351" width="3" height="9" fill="#fff"/>
<rect x="1422" y="335" width="1" height="27" fill="#000"/>
<rect x="1420" y="335" width="5" height="27" fill="#000"/>
<rect x="1430" y="343" width="1" height="19" fill="#000"/>
<rect x="1428" y="347" width="5" height="11" fill="#000"/>
<rect x="1429" y="348" width="3" height="9" fill="#fff"/>
<rect x="1438" y="330" width="1" height="13" fill="#000"/>
<rect x="1436" y="337" width="5" height="6" fill="#000"/>
<rect x="1446" y="327" width="1" height="23" fill="#000"/>
<rect x="1444" y="330" width="5" height="16" fill="#000"/>
<rect x="1445" y="331" width="3" height="14" fill="#fff"/>
<rect x="1454" y="323" width="1" height="9" fill="#000"/>
<rect x="1452" y="327" width="5" height="5" fill="#000"/>
</g>
<g stroke="#f00" stroke-width="3.4" fill="#f00" stroke-linecap="butt">
<line x1="1338" y1="277" x2="1412" y2="358.5"/>
<polygon points="1416.2,362.8 1405.6,357.4 1415.8,350.4" stroke="none"/>
<line x1="1415.5" y1="361.8" x2="1464" y2="327"/>
<polygon points="1473,321 1460.2,324 1465.8,331.2" stroke="none"/>
</g>
<rect x="1233" y="335" width="266" height="6" fill="#00ff00" shape-rendering="crispEdges"/>
<text x="1508.2" y="339.6" font-size="21.4" fill="#00ff00" stroke="#00ff00" stroke-width="0.4" textLength="113.8" lengthAdjust="spacing" style="font-family:'Liberation Serif','Noto Serif CJK SC',serif">多空转折点</text>
<g shape-rendering="crispEdges" clip-path="url(#cd)">
<rect x="6" y="605" width="1" height="25" fill="#c0c0c0"/>
<rect x="14" y="604" width="1" height="26" fill="#c0c0c0"/>
<rect x="22" y="601" width="1" height="29" fill="#c0c0c0"/>
<rect x="30" y="598" width="1" height="32" fill="#c0c0c0"/>
<rect x="38" y="597" width="1" height="33" fill="#c0c0c0"/>
<rect x="46" y="594" width="1" height="36" fill="#c0c0c0"/>
<rect x="54" y="594" width="1" height="36" fill="#c0c0c0"/>
<rect x="62" y="595" width="1" height="35" fill="#c0c0c0"/>
<rect x="70" y="596" width="1" height="34" fill="#c0c0c0"/>
<rect x="78" y="599" width="1" height="31" fill="#c0c0c0"/>
<rect x="86" y="598" width="1" height="32" fill="#c0c0c0"/>
<rect x="94" y="596" width="1" height="34" fill="#c0c0c0"/>
<rect x="102" y="595" width="1" height="35" fill="#c0c0c0"/>
<rect x="110" y="595" width="1" height="35" fill="#c0c0c0"/>
<rect x="118" y="595" width="1" height="35" fill="#c0c0c0"/>
<rect x="126" y="595" width="1" height="35" fill="#c0c0c0"/>
<rect x="134" y="595" width="1" height="35" fill="#c0c0c0"/>
<rect x="142" y="596" width="1" height="34" fill="#c0c0c0"/>
<rect x="150" y="604" width="1" height="26" fill="#c0c0c0"/>
<rect x="158" y="608" width="1" height="22" fill="#c0c0c0"/>
<rect x="166" y="614" width="1" height="16" fill="#c0c0c0"/>
<rect x="174" y="619" width="1" height="11" fill="#c0c0c0"/>
<rect x="182" y="628" width="1" height="2" fill="#c0c0c0"/>
<rect x="190" y="630" width="1" height="9" fill="#c0c0c0"/>
<rect x="198" y="630" width="1" height="19" fill="#c0c0c0"/>
<rect x="206" y="630" width="1" height="27" fill="#c0c0c0"/>
<rect x="214" y="630" width="1" height="28" fill="#c0c0c0"/>
<rect x="222" y="630" width="1" height="31" fill="#c0c0c0"/>
<rect x="230" y="630" width="1" height="27" fill="#c0c0c0"/>
<rect x="238" y="630" width="1" height="25" fill="#c0c0c0"/>
<rect x="246" y="630" width="1" height="24" fill="#c0c0c0"/>
<rect x="254" y="630" width="1" height="20" fill="#c0c0c0"/>
<rect x="262" y="630" width="1" height="15" fill="#c0c0c0"/>
<rect x="270" y="630" width="1" height="12" fill="#c0c0c0"/>
<rect x="278" y="630" width="1" height="9" fill="#c0c0c0"/>
<rect x="286" y="630" width="1" height="5" fill="#c0c0c0"/>
<rect x="294" y="630" width="1" height="6" fill="#c0c0c0"/>
<rect x="302" y="630" width="1" height="5" fill="#c0c0c0"/>
<rect x="310" y="630" width="1" height="5" fill="#c0c0c0"/>
<rect x="318" y="630" width="1" height="7" fill="#c0c0c0"/>
<rect x="326" y="630" width="1" height="10" fill="#c0c0c0"/>
<rect x="334" y="630" width="1" height="14" fill="#c0c0c0"/>
<rect x="342" y="630" width="1" height="18" fill="#c0c0c0"/>
<rect x="350" y="630" width="1" height="20" fill="#c0c0c0"/>
<rect x="358" y="630" width="1" height="24" fill="#c0c0c0"/>
<rect x="366" y="630" width="1" height="27" fill="#c0c0c0"/>
<rect x="374" y="630" width="1" height="28" fill="#c0c0c0"/>
<rect x="382" y="630" width="1" height="30" fill="#c0c0c0"/>
<rect x="390" y="630" width="1" height="28" fill="#c0c0c0"/>
<rect x="398" y="630" width="1" height="30" fill="#c0c0c0"/>
<rect x="406" y="630" width="1" height="38" fill="#c0c0c0"/>
<rect x="414" y="630" width="1" height="42" fill="#c0c0c0"/>
<rect x="422" y="630" width="1" height="46" fill="#c0c0c0"/>
<rect x="430" y="630" width="1" height="55" fill="#c0c0c0"/>
<rect x="438" y="630" width="1" height="63" fill="#c0c0c0"/>
<rect x="446" y="630" width="1" height="77" fill="#c0c0c0"/>
<rect x="454" y="630" width="1" height="84" fill="#c0c0c0"/>
<rect x="462" y="630" width="1" height="95" fill="#c0c0c0"/>
<rect x="470" y="630" width="1" height="105" fill="#c0c0c0"/>
<rect x="478" y="630" width="1" height="102" fill="#c0c0c0"/>
<rect x="486" y="630" width="1" height="111" fill="#c0c0c0"/>
<rect x="494" y="630" width="1" height="107" fill="#c0c0c0"/>
<rect x="502" y="630" width="1" height="98" fill="#c0c0c0"/>
<rect x="510" y="630" width="1" height="92" fill="#c0c0c0"/>
<rect x="518" y="630" width="1" height="84" fill="#c0c0c0"/>
<rect x="526" y="630" width="1" height="80" fill="#c0c0c0"/>
<rect x="534" y="630" width="1" height="71" fill="#c0c0c0"/>
<rect x="542" y="630" width="1" height="69" fill="#c0c0c0"/>
<rect x="550" y="630" width="1" height="64" fill="#c0c0c0"/>
<rect x="558" y="630" width="1" height="60" fill="#c0c0c0"/>
<rect x="566" y="630" width="1" height="53" fill="#c0c0c0"/>
<rect x="574" y="630" width="1" height="42" fill="#c0c0c0"/>
<rect x="582" y="630" width="1" height="36" fill="#c0c0c0"/>
<rect x="590" y="630" width="1" height="30" fill="#c0c0c0"/>
<rect x="598" y="630" width="1" height="22" fill="#c0c0c0"/>
<rect x="606" y="630" width="1" height="19" fill="#c0c0c0"/>
<rect x="614" y="630" width="1" height="16" fill="#c0c0c0"/>
<rect x="622" y="630" width="1" height="11" fill="#c0c0c0"/>
<rect x="630" y="630" width="1" height="8" fill="#c0c0c0"/>
<rect x="638" y="630" width="1" height="9" fill="#c0c0c0"/>
<rect x="646" y="630" width="1" height="9" fill="#c0c0c0"/>
<rect x="654" y="630" width="1" height="8" fill="#c0c0c0"/>
<rect x="662" y="630" width="1" height="8" fill="#c0c0c0"/>
<rect x="670" y="630" width="1" height="7" fill="#c0c0c0"/>
<rect x="678" y="630" width="1" height="1" fill="#c0c0c0"/>
<rect x="686" y="630" width="1" height="1" fill="#c0c0c0"/>
<rect x="694" y="630" width="1" height="4" fill="#c0c0c0"/>
<rect x="702" y="630" width="1" height="4" fill="#c0c0c0"/>
<rect x="710" y="630" width="1" height="4" fill="#c0c0c0"/>
<rect x="718" y="630" width="1" height="4" fill="#c0c0c0"/>
<rect x="726" y="630" width="1" height="3" fill="#c0c0c0"/>
<rect x="734" y="630" width="1" height="1" fill="#c0c0c0"/>
<rect x="742" y="630" width="1" height="1" fill="#c0c0c0"/>
<rect x="750" y="630" width="1" height="2" fill="#c0c0c0"/>
<rect x="758" y="630" width="1" height="2" fill="#c0c0c0"/>
<rect x="766" y="630" width="1" height="4" fill="#c0c0c0"/>
<rect x="774" y="630" width="1" height="3" fill="#c0c0c0"/>
<rect x="782" y="629" width="1" height="1" fill="#c0c0c0"/>
<rect x="790" y="629" width="1" height="1" fill="#c0c0c0"/>
<rect x="798" y="629" width="1" height="1" fill="#c0c0c0"/>
<rect x="806" y="630" width="1" height="8" fill="#c0c0c0"/>
<rect x="814" y="630" width="1" height="14" fill="#c0c0c0"/>
<rect x="822" y="630" width="1" height="15" fill="#c0c0c0"/>
<rect x="830" y="630" width="1" height="18" fill="#c0c0c0"/>
<rect x="838" y="630" width="1" height="22" fill="#c0c0c0"/>
<rect x="846" y="630" width="1" height="25" fill="#c0c0c0"/>
<rect x="854" y="630" width="1" height="22" fill="#c0c0c0"/>
<rect x="862" y="630" width="1" height="17" fill="#c0c0c0"/>
<rect x="870" y="630" width="1" height="9" fill="#c0c0c0"/>
<rect x="878" y="630" width="1" height="5" fill="#c0c0c0"/>
<rect x="886" y="629" width="1" height="1" fill="#c0c0c0"/>
<rect x="894" y="623" width="1" height="7" fill="#c0c0c0"/>
<rect x="902" y="618" width="1" height="12" fill="#c0c0c0"/>
<rect x="910" y="613" width="1" height="17" fill="#c0c0c0"/>
<rect x="918" y="613" width="1" height="17" fill="#c0c0c0"/>
<rect x="926" y="615" width="1" height="15" fill="#c0c0c0"/>
<rect x="934" y="620" width="1" height="10" fill="#c0c0c0"/>
<rect x="942" y="620" width="1" height="10" fill="#c0c0c0"/>
<rect x="950" y="619" width="1" height="11" fill="#c0c0c0"/>
<rect x="958" y="618" width="1" height="12" fill="#c0c0c0"/>
<rect x="966" y="618" width="1" height="12" fill="#c0c0c0"/>
<rect x="974" y="618" width="1" height="12" fill="#c0c0c0"/>
<rect x="982" y="615" width="1" height="15" fill="#c0c0c0"/>
<rect x="990" y="615" width="1" height="15" fill="#c0c0c0"/>
<rect x="998" y="617" width="1" height="13" fill="#c0c0c0"/>
<rect x="1006" y="621" width="1" height="9" fill="#c0c0c0"/>
<rect x="1014" y="622" width="1" height="8" fill="#c0c0c0"/>
<rect x="1022" y="618" width="1" height="12" fill="#c0c0c0"/>
<rect x="1030" y="613" width="1" height="17" fill="#c0c0c0"/>
<rect x="1038" y="603" width="1" height="27" fill="#c0c0c0"/>
<rect x="1046" y="598" width="1" height="32" fill="#c0c0c0"/>
<rect x="1054" y="593" width="1" height="37" fill="#c0c0c0"/>
<rect x="1062" y="589" width="1" height="41" fill="#c0c0c0"/>
<rect x="1070" y="590" width="1" height="40" fill="#c0c0c0"/>
<rect x="1078" y="591" width="1" height="39" fill="#c0c0c0"/>
<rect x="1086" y="593" width="1" height="37" fill="#c0c0c0"/>
<rect x="1094" y="596" width="1" height="34" fill="#c0c0c0"/>
<rect x="1102" y="602" width="1" height="28" fill="#c0c0c0"/>
<rect x="1110" y="606" width="1" height="24" fill="#c0c0c0"/>
<rect x="1118" y="610" width="1" height="20" fill="#c0c0c0"/>
<rect x="1126" y="610" width="1" height="20" fill="#c0c0c0"/>
<rect x="1134" y="613" width="1" height="17" fill="#c0c0c0"/>
<rect x="1142" y="615" width="1" height="15" fill="#c0c0c0"/>
<rect x="1150" y="620" width="1" height="10" fill="#c0c0c0"/>
<rect x="1158" y="625" width="1" height="5" fill="#c0c0c0"/>
<rect x="1166" y="628" width="1" height="2" fill="#c0c0c0"/>
<rect x="1174" y="629" width="1" height="1" fill="#c0c0c0"/>
<rect x="1182" y="630" width="1" height="1" fill="#c0c0c0"/>
<rect x="1190" y="630" width="1" height="4" fill="#c0c0c0"/>
<rect x="1198" y="630" width="1" height="7" fill="#c0c0c0"/>
<rect x="1206" y="630" width="1" height="6" fill="#c0c0c0"/>
<rect x="1214" y="630" width="1" height="4" fill="#c0c0c0"/>
<rect x="1222" y="630" width="1" height="4" fill="#c0c0c0"/>
<rect x="1230" y="630" width="1" height="7" fill="#c0c0c0"/>
<rect x="1238" y="630" width="1" height="8" fill="#c0c0c0"/>
<rect x="1246" y="630" width="1" height="7" fill="#c0c0c0"/>
<rect x="1254" y="630" width="1" height="4" fill="#c0c0c0"/>
<rect x="1262" y="630" width="1" height="1" fill="#c0c0c0"/>
<rect x="1270" y="630" width="1" height="1" fill="#c0c0c0"/>
<rect x="1278" y="628" width="1" height="2" fill="#c0c0c0"/>
<rect x="1286" y="626" width="1" height="4" fill="#c0c0c0"/>
<rect x="1294" y="626" width="1" height="4" fill="#c0c0c0"/>
<rect x="1302" y="629" width="1" height="1" fill="#c0c0c0"/>
<rect x="1310" y="628" width="1" height="2" fill="#c0c0c0"/>
<rect x="1318" y="625" width="1" height="5" fill="#c0c0c0"/>
<rect x="1326" y="623" width="1" height="7" fill="#c0c0c0"/>
<rect x="1334" y="622" width="1" height="8" fill="#c0c0c0"/>
<rect x="1342" y="623" width="1" height="7" fill="#c0c0c0"/>
<rect x="1350" y="622" width="1" height="8" fill="#c0c0c0"/>
<rect x="1358" y="624" width="1" height="6" fill="#c0c0c0"/>
<rect x="1366" y="625" width="1" height="5" fill="#c0c0c0"/>
<rect x="1374" y="626" width="1" height="4" fill="#c0c0c0"/>
<rect x="1382" y="628" width="1" height="2" fill="#c0c0c0"/>
<rect x="1390" y="630" width="1" height="1" fill="#c0c0c0"/>
<rect x="1398" y="630" width="1" height="4" fill="#c0c0c0"/>
<rect x="1406" y="630" width="1" height="7" fill="#c0c0c0"/>
<rect x="1414" y="630" width="1" height="8" fill="#c0c0c0"/>
<rect x="1422" y="630" width="1" height="13" fill="#c0c0c0"/>
<rect x="1430" y="630" width="1" height="13" fill="#c0c0c0"/>
<rect x="1438" y="630" width="1" height="13" fill="#c0c0c0"/>
<rect x="1446" y="630" width="1" height="11" fill="#c0c0c0"/>
<rect x="1454" y="630" width="1" height="11" fill="#c0c0c0"/>
</g>
<polyline clip-path="url(#cd)" points="0.0,622.6 6.5,619.0 18.7,613.3 29.9,608.6 46.7,603.0 54.2,600.2 63.5,598.4 78.5,597.4 102.7,595.5 142.0,595.2 155.0,596.5 168.0,599.3 179.0,603.0 192.4,611.4 203.6,620.8 214.8,630.0 222.3,635.7 233.5,644.0 244.7,650.7 254.0,652.5 263.4,654.4 274.6,652.5 287.7,649.4 298.9,644.5 310.0,641.9 320.0,639.0 335.0,638.5 344.3,639.4 357.4,642.3 374.2,648.2 385.4,650.7 402.2,655.3 413.4,660.6 430.2,665.6 439.6,670.6 450.8,678.7 462.0,689.0 473.2,700.2 484.4,711.4 495.6,720.3 506.8,725.9 519.9,728.6 531.1,726.7 544.2,720.3 557.3,712.3 568.5,703.0 581.5,693.6 592.7,685.2 605.8,674.9 617.0,666.5 628.2,658.1 640.0,651.2 645.6,648.4 656.8,644.5 669.9,641.3 677.4,639.1 688.6,637.2 703.5,636.3 711.0,635.2 726.0,634.4 733.4,633.3 744.6,632.5 782.0,632.5 791.3,631.4 800.7,631.0 806.3,632.5 817.5,633.8 826.8,636.3 838.0,639.4 849.2,642.3 860.4,645.4 871.6,647.3 879.1,646.4 888.5,645.4 897.8,641.3 905.3,638.1 916.5,631.0 927.7,625.1 938.9,621.3 950.1,618.9 962.8,616.5 982.4,616.5 997.4,617.6 1023.5,617.6 1038.5,615.2 1047.8,611.4 1055.3,610.1 1064.6,606.4 1072.0,604.0 1079.6,601.5 1090.8,596.5 1102.0,594.6 1109.4,594.6 1120.7,596.5 1131.9,599.3 1145.0,604.0 1156.0,608.6 1169.2,614.2 1180.4,618.9 1193.5,624.0 1204.7,627.7 1210.3,629.5 1221.5,631.0 1230.9,633.3 1240.2,634.8 1251.2,636.3 1258.7,635.3 1277.4,634.4 1284.8,633.3 1296.0,632.0 1311.0,629.5 1322.2,627.7 1333.4,625.8 1348.4,624.5 1367.0,623.6 1385.7,623.6 1396.9,625.4 1408.1,627.3 1415.6,629.5 1423.1,631.0 1434.3,635.7 1443.6,637.0 1452.0,639.4" fill="none" stroke="#f00" stroke-width="1.2" stroke-dasharray="3 3"/>
<g shape-rendering="crispEdges" stroke="#c0c0c0" stroke-dasharray="3 3" stroke-width="1">
<line x1="-1" y1="787.5" x2="1691" y2="787.5"/>
<line x1="-1" y1="838.5" x2="1691" y2="838.5"/>
<line x1="-1" y1="899.5" x2="1691" y2="899.5"/>
</g>
<polyline clip-path="url(#cr)" points="-1.5,813.5 6.5,815.4 14.5,813.5 22.5,805.5 30.5,804.2 38.5,809.4 46.5,803.6 54.5,809.8 62.5,820.0 70.5,816.3 78.5,827.0 86.5,815.4 94.5,814.4 102.5,808.5 110.5,814.4 118.5,816.3 126.5,813.0 134.5,809.4 142.5,823.8 150.5,845.3 158.5,836.3 166.5,846.6 174.5,845.3 182.5,860.2 190.5,870.1 198.5,871.4 206.5,872.4 214.5,856.5 222.5,857.4 230.5,842.1 238.5,844.0 246.5,848.1 254.5,836.9 262.5,833.1 270.5,836.3 278.5,834.4 286.5,832.2 294.5,842.1 302.5,838.2 310.5,842.1 318.5,848.1 326.5,858.4 334.5,855.5 342.5,859.3 350.5,855.5 358.5,865.3 366.5,861.5 374.5,860.6 382.5,863.4 390.5,846.6 398.5,861.2 406.5,875.5 414.5,861.5 422.5,865.3 430.5,876.5 438.5,877.6 446.5,886.4 454.5,880.8 462.5,886.4 470.5,887.7 478.5,864.5 486.5,876.5 494.5,859.3 502.5,849.6 510.5,852.7 518.5,849.6 526.5,853.3 534.5,845.6 542.5,852.4 550.5,848.4 558.5,849.6 566.5,843.4 574.5,834.6 582.5,842.1 590.5,837.4 598.5,834.6 606.5,839.1 614.5,840.6 622.5,835.4 630.5,836.5 638.5,843.4 646.5,841.5 654.5,840.6 662.5,844.3 670.5,835.9 678.5,830.3 686.5,832.2 694.5,849.0 702.5,843.4 710.5,838.2 718.5,841.5 726.5,837.4 734.5,831.6 742.5,837.2 750.5,838.7 758.5,845.3 766.5,845.3 774.5,840.6 782.5,833.5 790.5,831.3 798.5,837.4 806.5,859.7 814.5,856.5 822.5,847.5 830.5,852.2 838.5,853.7 846.5,855.5 854.5,842.1 862.5,834.0 870.5,829.8 878.5,828.5 886.5,822.5 894.5,821.9 902.5,820.0 910.5,817.3 918.5,832.2 926.5,835.6 934.5,845.3 942.5,833.1 950.5,832.2 958.5,833.1 966.5,828.5 974.5,832.2 982.5,823.4 990.5,832.8 998.5,837.2 1006.5,842.1 1014.5,837.8 1022.5,822.5 1030.5,820.4 1038.5,807.5 1046.5,815.4 1054.5,814.4 1062.5,812.6 1070.5,824.4 1078.5,823.8 1086.5,828.1 1094.5,829.8 1102.5,841.5 1110.5,836.5 1118.5,839.7 1126.5,828.8 1134.5,838.2 1142.5,835.6 1150.5,846.6 1158.5,847.7 1166.5,844.3 1174.5,842.5 1182.5,846.2 1190.5,848.4 1198.5,851.8 1206.5,838.4 1214.5,835.6 1222.5,841.0 1230.5,850.5 1238.5,849.6 1246.5,836.9 1254.5,830.3 1262.5,833.5 1270.5,834.4 1278.5,829.8 1286.5,828.5 1294.5,833.5 1302.5,846.6 1310.5,836.9 1318.5,826.2 1326.5,828.5 1334.5,828.5 1342.5,837.4 1350.5,831.3 1358.5,839.7 1366.5,839.7 1374.5,839.7 1382.5,842.8 1390.5,850.3 1398.5,854.2 1406.5,855.9 1414.5,857.8 1422.5,862.6 1430.5,852.4 1438.5,849.6 1446.5,841.5 1454.5,842.5" fill="none" stroke="#1e90ff" stroke-width="1.1"/>
<g shape-rendering="crispEdges">
<rect x="1692" y="25" width="46" height="912" fill="#fff"/>
<rect x="0" y="24" width="1692" height="1" fill="#000"/>
<rect x="1691" y="24" width="1" height="902" fill="#000"/>
<rect x="0" y="577" width="1692" height="1" fill="#000"/>
<rect x="0" y="579" width="1692" height="1" fill="#000"/>
<rect x="0" y="749" width="1692" height="1" fill="#000"/>
<rect x="0" y="751" width="1692" height="1" fill="#000"/>
<rect x="0" y="925" width="1692" height="1" fill="#000"/>
<rect x="1691" y="578" width="4" height="1" fill="#fff"/>
<rect x="1691" y="750" width="4" height="1" fill="#fff"/>
<rect x="1691" y="787" width="1" height="1" fill="#fff"/>
<rect x="1691" y="838" width="1" height="1" fill="#fff"/>
<rect x="1691" y="899" width="1" height="1" fill="#fff"/>
<rect x="1737" y="22" width="1" height="915" fill="#e3e3e3"/>
</g>
<rect x="1692" y="46" width="2" height="1" fill="#000" shape-rendering="crispEdges"/>
<text x="1697" y="49.2" font-size="9.4" fill="#000" textLength="33" lengthAdjust="spacingAndGlyphs">29298.0</text>
<rect x="1692" y="79" width="2" height="1" fill="#000" shape-rendering="crispEdges"/>
<text x="1697" y="82.2" font-size="9.4" fill="#000" textLength="33" lengthAdjust="spacingAndGlyphs">28770.0</text>
<rect x="1692" y="112" width="2" height="1" fill="#000" shape-rendering="crispEdges"/>
<text x="1697" y="115.2" font-size="9.4" fill="#000" textLength="33" lengthAdjust="spacingAndGlyphs">28242.0</text>
<rect x="1692" y="145" width="2" height="1" fill="#000" shape-rendering="crispEdges"/>
<text x="1697" y="148.2" font-size="9.4" fill="#000" textLength="33" lengthAdjust="spacingAndGlyphs">27698.0</text>
<rect x="1692" y="178" width="2" height="1" fill="#000" shape-rendering="crispEdges"/>
<text x="1697" y="181.2" font-size="9.4" fill="#000" textLength="33" lengthAdjust="spacingAndGlyphs">27170.0</text>
<rect x="1692" y="211" width="2" height="1" fill="#000" shape-rendering="crispEdges"/>
<text x="1697" y="214.2" font-size="9.4" fill="#000" textLength="33" lengthAdjust="spacingAndGlyphs">26642.0</text>
<rect x="1692" y="244" width="2" height="1" fill="#000" shape-rendering="crispEdges"/>
<text x="1697" y="247.2" font-size="9.4" fill="#000" textLength="33" lengthAdjust="spacingAndGlyphs">26114.0</text>
<rect x="1692" y="277" width="2" height="1" fill="#000" shape-rendering="crispEdges"/>
<text x="1697" y="280.2" font-size="9.4" fill="#000" textLength="33" lengthAdjust="spacingAndGlyphs">25570.0</text>
<rect x="1692" y="311" width="2" height="1" fill="#000" shape-rendering="crispEdges"/>
<text x="1697" y="314.2" font-size="9.4" fill="#000" textLength="33" lengthAdjust="spacingAndGlyphs">25042.0</text>
<rect x="1692" y="344" width="2" height="1" fill="#000" shape-rendering="crispEdges"/>
<text x="1697" y="347.2" font-size="9.4" fill="#000" textLength="33" lengthAdjust="spacingAndGlyphs">24514.0</text>
<rect x="1692" y="377" width="2" height="1" fill="#000" shape-rendering="crispEdges"/>
<text x="1697" y="380.2" font-size="9.4" fill="#000" textLength="33" lengthAdjust="spacingAndGlyphs">23986.0</text>
<rect x="1692" y="410" width="2" height="1" fill="#000" shape-rendering="crispEdges"/>
<text x="1697" y="413.2" font-size="9.4" fill="#000" textLength="33" lengthAdjust="spacingAndGlyphs">23458.0</text>
<rect x="1692" y="443" width="2" height="1" fill="#000" shape-rendering="crispEdges"/>
<text x="1697" y="446.2" font-size="9.4" fill="#000" textLength="33" lengthAdjust="spacingAndGlyphs">22914.0</text>
<rect x="1692" y="476" width="2" height="1" fill="#000" shape-rendering="crispEdges"/>
<text x="1697" y="479.2" font-size="9.4" fill="#000" textLength="33" lengthAdjust="spacingAndGlyphs">22386.0</text>
<rect x="1692" y="509" width="2" height="1" fill="#000" shape-rendering="crispEdges"/>
<text x="1697" y="512.2" font-size="9.4" fill="#000" textLength="33" lengthAdjust="spacingAndGlyphs">21858.0</text>
<rect x="1692" y="542" width="2" height="1" fill="#000" shape-rendering="crispEdges"/>
<text x="1697" y="545.2" font-size="9.4" fill="#000" textLength="33" lengthAdjust="spacingAndGlyphs">21330.0</text>
<rect x="1692" y="574" width="2" height="1" fill="#000" shape-rendering="crispEdges"/>
<text x="1697" y="577.2" font-size="9.4" fill="#000" textLength="33" lengthAdjust="spacingAndGlyphs">20802.0</text>
<rect x="1693" y="325" width="41" height="11" fill="#000" shape-rendering="crispEdges"/>
<text x="1697" y="334" font-size="9.4" fill="#fff" textLength="33" lengthAdjust="spacingAndGlyphs">24706.0</text>
<rect x="1693" y="289" width="41" height="11" fill="#f00" shape-rendering="crispEdges"/>
<text x="1697" y="298" font-size="9.4" fill="#fff" textLength="33" lengthAdjust="spacingAndGlyphs">25287.5</text>
<rect x="1693" y="310" width="41" height="11" fill="#f00" shape-rendering="crispEdges"/>
<text x="1697" y="319" font-size="9.4" fill="#fff" textLength="33" lengthAdjust="spacingAndGlyphs">24949.9</text>
<rect x="1693" y="330" width="41" height="11" fill="#32cd32" shape-rendering="crispEdges"/>
<text x="1697" y="339" font-size="9.4" fill="#fff" textLength="33" lengthAdjust="spacingAndGlyphs">24628.3</text>
<rect x="1693" y="356" width="41" height="11" fill="#00f" shape-rendering="crispEdges"/>
<text x="1697" y="365" font-size="9.4" fill="#fff" textLength="33" lengthAdjust="spacingAndGlyphs">24210.4</text>
<rect x="1693" y="373" width="41" height="11" fill="#00f" shape-rendering="crispEdges"/>
<text x="1697" y="382" font-size="9.4" fill="#fff" textLength="33" lengthAdjust="spacingAndGlyphs">23937.1</text>
<rect x="1692" y="580" width="1" height="1" fill="#000"/>
<text x="1695" y="589.7" font-size="9.4" fill="#000" textLength="27.5" lengthAdjust="spacingAndGlyphs">596.11</text>
<rect x="1692" y="630" width="1" height="1" fill="#000"/>
<text x="1695" y="633.6" font-size="9.4" fill="#000" textLength="17.5" lengthAdjust="spacingAndGlyphs">0.00</text>
<rect x="1692" y="748" width="1" height="1" fill="#000"/>
<text x="1695" y="745.5" font-size="9.4" fill="#000" textLength="36" lengthAdjust="spacingAndGlyphs">-1415.19</text>
<rect x="1692" y="752" width="1" height="1" fill="#000"/>
<text x="1695.5" y="761.6" font-size="9.4" fill="#000" textLength="14.5" lengthAdjust="spacingAndGlyphs">100</text>
<text x="1694.5" y="790.6" font-size="9.4" fill="#000" textLength="10" lengthAdjust="spacingAndGlyphs">80</text>
<text x="1694.5" y="841.6" font-size="9.4" fill="#000" textLength="10" lengthAdjust="spacingAndGlyphs">50</text>
<text x="1694.8" y="902.6" font-size="9.4" fill="#000" textLength="9.5" lengthAdjust="spacingAndGlyphs">15</text>
<text x="1695" y="921.6" font-size="9.4" fill="#000" textLength="5" lengthAdjust="spacingAndGlyphs">0</text>
<rect x="1692" y="925" width="1" height="1" fill="#000"/>
<text x="2.2" y="592.3" font-size="9.4" fill="#000" textLength="65.4" lengthAdjust="spacingAndGlyphs">MACD(12,26,9)</text>
<text x="71" y="592.3" font-size="9.4" fill="#000" textLength="30.8" lengthAdjust="spacingAndGlyphs">-126.24</text>
<text x="105.5" y="592.3" font-size="9.4" fill="#000" textLength="30.5" lengthAdjust="spacingAndGlyphs">-105.88</text>
<text x="2.2" y="763.8" font-size="9.4" fill="#000" textLength="31.8" lengthAdjust="spacingAndGlyphs">RSI(14)</text>
<text x="37" y="763.8" font-size="9.4" fill="#000" textLength="33" lengthAdjust="spacingAndGlyphs">47.7674</text>
<rect x="-2" y="926" width="1" height="3" fill="#000" shape-rendering="crispEdges"/>
<text x="-3" y="938" font-size="9.4" fill="#000" textLength="52" lengthAdjust="spacingAndGlyphs">20 Dec 2019</text>
<rect x="62" y="926" width="1" height="3" fill="#000" shape-rendering="crispEdges"/>
<text x="61" y="938" font-size="9.4" fill="#000" textLength="45" lengthAdjust="spacingAndGlyphs">6 Jan 2020</text>
<rect x="126" y="926" width="1" height="3" fill="#000" shape-rendering="crispEdges"/>
<text x="125" y="938" font-size="9.4" fill="#000" textLength="49.4" lengthAdjust="spacingAndGlyphs">16 Jan 2020</text>
<rect x="190" y="926" width="1" height="3" fill="#000" shape-rendering="crispEdges"/>
<text x="189" y="938" font-size="9.4" fill="#000" textLength="49.7" lengthAdjust="spacingAndGlyphs">30 Jan 2020</text>
<rect x="254" y="926" width="1" height="3" fill="#000" shape-rendering="crispEdges"/>
<text x="253" y="938" font-size="9.4" fill="#000" textLength="50.7" lengthAdjust="spacingAndGlyphs">11 Feb 2020</text>
<rect x="318" y="926" width="1" height="3" fill="#000" shape-rendering="crispEdges"/>
<text x="317" y="938" font-size="9.4" fill="#000" textLength="51.7" lengthAdjust="spacingAndGlyphs">21 Feb 2020</text>
<rect x="382" y="926" width="1" height="3" fill="#000" shape-rendering="crispEdges"/>
<text x="381" y="938" font-size="9.4" fill="#000" textLength="46.4" lengthAdjust="spacingAndGlyphs">4 Mar 2020</text>
<rect x="446" y="926" width="1" height="3" fill="#000" shape-rendering="crispEdges"/>
<text x="445" y="938" font-size="9.4" fill="#000" textLength="51.7" lengthAdjust="spacingAndGlyphs">16 Mar 2020</text>
<rect x="510" y="926" width="1" height="3" fill="#000" shape-rendering="crispEdges"/>
<text x="509" y="938" font-size="9.4" fill="#000" textLength="51" lengthAdjust="spacingAndGlyphs">26 Mar 2020</text>
<rect x="574" y="926" width="1" height="3" fill="#000" shape-rendering="crispEdges"/>
<text x="573" y="938" font-size="9.4" fill="#000" textLength="45.7" lengthAdjust="spacingAndGlyphs">7 Apr 2020</text>
<rect x="638" y="926" width="1" height="3" fill="#000" shape-rendering="crispEdges"/>
<text x="637" y="938" font-size="9.4" fill="#000" textLength="50.4" lengthAdjust="spacingAndGlyphs">21 Apr 2020</text>
<rect x="702" y="926" width="1" height="3" fill="#000" shape-rendering="crispEdges"/>
<text x="701" y="938" font-size="9.4" fill="#000" textLength="49.7" lengthAdjust="spacingAndGlyphs">5 May 2020</text>
<rect x="766" y="926" width="1" height="3" fill="#000" shape-rendering="crispEdges"/>
<text x="765" y="938" font-size="9.4" fill="#000" textLength="53.7" lengthAdjust="spacingAndGlyphs">15 May 2020</text>
<rect x="830" y="926" width="1" height="3" fill="#000" shape-rendering="crispEdges"/>
<text x="829" y="938" font-size="9.4" fill="#000" textLength="54" lengthAdjust="spacingAndGlyphs">27 May 2020</text>
<rect x="894" y="926" width="1" height="3" fill="#000" shape-rendering="crispEdges"/>
<text x="893" y="938" font-size="9.4" fill="#000" textLength="45" lengthAdjust="spacingAndGlyphs">8 Jun 2020</text>
<rect x="958" y="926" width="1" height="3" fill="#000" shape-rendering="crispEdges"/>
<text x="957" y="938" font-size="9.4" fill="#000" textLength="49.4" lengthAdjust="spacingAndGlyphs">18 Jun 2020</text>
<rect x="1022" y="926" width="1" height="3" fill="#000" shape-rendering="crispEdges"/>
<text x="1021" y="938" font-size="9.4" fill="#000" textLength="40.7" lengthAdjust="spacingAndGlyphs">2 Jul 2020</text>
<rect x="1086" y="926" width="1" height="3" fill="#000" shape-rendering="crispEdges"/>
<text x="1085" y="938" font-size="9.4" fill="#000" textLength="45.7" lengthAdjust="spacingAndGlyphs">14 Jul 2020</text>
<rect x="1150" y="926" width="1" height="3" fill="#000" shape-rendering="crispEdges"/>
<text x="1149" y="938" font-size="9.4" fill="#000" textLength="46.7" lengthAdjust="spacingAndGlyphs">24 Jul 2020</text>
<rect x="1214" y="926" width="1" height="3" fill="#000" shape-rendering="crispEdges"/>
<text x="1213" y="938" font-size="9.4" fill="#000" textLength="47.4" lengthAdjust="spacingAndGlyphs">5 Aug 2020</text>
<rect x="1278" y="926" width="1" height="3" fill="#000" shape-rendering="crispEdges"/>
<text x="1277" y="938" font-size="9.4" fill="#000" textLength="52.4" lengthAdjust="spacingAndGlyphs">17 Aug 2020</text>
<rect x="1342" y="926" width="1" height="3" fill="#000" shape-rendering="crispEdges"/>
<text x="1341" y="938" font-size="9.4" fill="#000" textLength="52.4" lengthAdjust="spacingAndGlyphs">27 Aug 2020</text>
<rect x="1406" y="926" width="1" height="3" fill="#000" shape-rendering="crispEdges"/>
<text x="1405" y="938" font-size="9.4" fill="#000" textLength="46.4" lengthAdjust="spacingAndGlyphs">8 Sep 2020</text>
<polygon points="1464.5,25 1474.7,25 1469.6,30.3" fill="#c0c0c0"/>
<polygon points="0.8,35 8.2,35 4.5,30.4" fill="#000"/>
<text x="13.2" y="35.3" font-size="9.4" fill="#000" textLength="50.6" lengthAdjust="spacingAndGlyphs">HK50-,Daily</text>
<text x="70" y="35.3" font-size="9.4" fill="#000" textLength="32.7" lengthAdjust="spacingAndGlyphs">24776.0</text>
<text x="106.1" y="35.3" font-size="9.4" fill="#000" textLength="32.5" lengthAdjust="spacingAndGlyphs">24838.0</text>
<text x="142.5" y="35.3" font-size="9.4" fill="#000" textLength="32" lengthAdjust="spacingAndGlyphs">24596.5</text>
<text x="178.3" y="35.3" font-size="9.4" fill="#000" textLength="32.6" lengthAdjust="spacingAndGlyphs">24706.0</text>
<g shape-rendering="crispEdges">
<rect x="0" y="43" width="222" height="67" fill="#fff"/>
<rect x="1" y="44" width="52" height="24" fill="url(#gt)"/>
<rect x="168" y="44" width="52" height="24" fill="url(#gt)"/>
<rect x="1" y="68" width="109" height="40" fill="url(#gb)"/>
<rect x="112" y="68" width="108" height="40" fill="url(#gb)"/>
<rect x="5" y="67" width="44" height="1" fill="#f9a0a0"/>
<rect x="172" y="67" width="44" height="1" fill="#f9a0a0"/>
<rect x="1" y="44" width="52" height="1" fill="#c02020"/>
<rect x="168" y="44" width="52" height="1" fill="#c02020"/>
<rect x="55" y="44" width="112" height="22" fill="#b8bcc4"/>
<rect x="56" y="45" width="110" height="20" fill="#fff"/>
<rect x="56" y="45" width="21" height="20" fill="url(#gs)"/>
<rect x="145" y="45" width="21" height="20" fill="url(#gs)"/>
<rect x="77" y="45" width="1" height="20" fill="#b8bcc4"/>
<rect x="144" y="45" width="1" height="20" fill="#b8bcc4"/>
</g>
<polygon points="62,53 69,53 65.5,56.5" fill="#4a5cc0"/>
<polygon points="152,56 159,56 155.5,52.5" fill="#4a5cc0"/>
<text x="140.4" y="58.2" font-size="11.5" fill="#000" text-anchor="end">1.00</text>
<text x="26.5" y="60" font-size="12" fill="#fff" text-anchor="middle" textLength="26" lengthAdjust="spacingAndGlyphs">SELL</text>
<text x="193.5" y="60" font-size="12" fill="#fff" text-anchor="middle" textLength="24" lengthAdjust="spacingAndGlyphs">BUY</text>
<text x="17" y="99" font-size="11.5" fill="#fff" textLength="35" lengthAdjust="spacingAndGlyphs" font-weight="bold">24704</text>
<text x="127" y="99" font-size="11.5" fill="#fff" textLength="35" lengthAdjust="spacingAndGlyphs" font-weight="bold">24720</text>
<rect x="57" y="95.5" width="3.5" height="3.5" fill="#fff"/>
<rect x="168" y="95.5" width="3.5" height="3.5" fill="#fff"/>
<text x="63" y="99" font-size="34" fill="#fff" textLength="16" lengthAdjust="spacingAndGlyphs">5</text>
<text x="174" y="99" font-size="34" fill="#fff" textLength="16" lengthAdjust="spacingAndGlyphs">5</text>
<g id="toolbar">
<rect x="0" y="0" width="1738" height="20" fill="#f0f0f0"/>
<rect x="0" y="20" width="1738" height="1" fill="#a0a0a0"/>
<rect x="0" y="21" width="1738" height="1" fill="#696969"/>
<rect x="0" y="1.6" width="14.4" height="12.8" rx="1.2" fill="#fff" stroke="#2f78be" stroke-width="1.3"/>
<rect x="0" y="2.2" width="2.6" height="11.6" fill="#3f8fdc"/><rect x="1" y="9" width="1" height="4" fill="#444"/><rect x="1" y="2.8" width="1.4" height="1.4" fill="#000"/>
<rect x="3.9" y="2.9" width="1.3" height="1.2" fill="#f22"/><rect x="6" y="3.2" width="7.2" height="0.8" fill="#d5e2fb"/>
<rect x="3.9" y="4.9" width="1.3" height="1.2" fill="#243"/><rect x="6" y="5.2" width="7.2" height="0.8" fill="#d5e2fb"/>
<rect x="3.9" y="6.9" width="1.3" height="1.2" fill="#243"/><rect x="6" y="7.2" width="7.2" height="0.8" fill="#d5e2fb"/>
<rect x="3.9" y="8.9" width="1.3" height="1.2" fill="#f22"/><rect x="6" y="9.2" width="7.2" height="0.8" fill="#d5e2fb"/>
<rect x="27.6" y="0.4" width="11.6" height="13" rx="0.8" fill="#fff" stroke="#b3ab97" stroke-width="1"/><rect x="27.2" y="0" width="12.4" height="1.2" fill="#a8a08c"/>
<path d="M30.5 2.2v4.8M29.3 6.2h1.2M30.5 3.2h2.4M36.8 2.2v3M36.8 3.4h1" stroke="#555" stroke-width="0.9" fill="none"/>
<line x1="39.2" y1="12.6" x2="43.8" y2="16.6" stroke="#c49410" stroke-width="2.8"/>
<circle cx="35.4" cy="9.2" r="5" fill="#e2f2fb" stroke="#5b92dc" stroke-width="1.1"/><rect x="33.6" y="6.2" width="2.6" height="4.6" fill="#a8b8c4"/>
<rect x="52" y="0" width="1" height="18" fill="#a0a0a0" shape-rendering="crispEdges"/>
<path d="M62.5 0.5h8l3.5 3.5v9.5h-11.5z" fill="#fff" stroke="#8a8a8a" stroke-width="1"/><path d="M70.5 0.5v3.5h3.5" fill="#ddd" stroke="#8a8a8a" stroke-width="0.8"/>
<rect x="64.2" y="2.4" width="3" height="1.6" fill="#aaa"/><rect x="64.2" y="6" width="5" height="0.9" fill="#999"/><rect x="64.2" y="8.2" width="5" height="0.9" fill="#999"/><rect x="64.2" y="10.4" width="3" height="0.9" fill="#999"/>
<path d="M70.2 6.4h3.8v3.9h3.9v3.8h-3.9v3.9h-3.8v-3.9h-3.9v-3.8h3.9z" fill="#1fd21f" stroke="#0a8a0a" stroke-width="0.9"/>
<text x="80.8" y="11.2" font-size="12.2" fill="#000" textLength="36.4" lengthAdjust="spacing" style="font-family:'Liberation Sans','Noto Sans CJK SC',sans-serif">新订单</text>
<defs><linearGradient id="gbk" x1="0" y1="0" x2="1" y2="1"><stop offset="0" stop-color="#fde36a"/><stop offset="0.5" stop-color="#f2bd12"/><stop offset="1" stop-color="#d99a10"/></linearGradient></defs>
<path d="M129 10.8L136.8 16.4L145 9.6L144.6 7.6L136.6 14L129.2 9z" fill="#caa562" stroke="#a86a14" stroke-width="0.9" stroke-linejoin="round"/>
<path d="M128.9 9.3L134.3 1.2L144.7 7.9L136.6 14.2z" fill="url(#gbk)" stroke="#b06c10" stroke-width="1" stroke-linejoin="round"/>
<path d="M159 0.5h7.5l3.5 2.5v7h-11z" fill="#19a3f5" stroke="#2b7fd8" stroke-width="0.8"/><path d="M159 0.5l3 2v7.5" stroke="#fff" stroke-width="0.8" fill="none"/><rect x="164" y="4" width="4.5" height="1.4" fill="#d8f0ff"/>
<path d="M159.5 15.6a2.6 2.6 0 0 1 -0.6 -5.1a3.4 3.4 0 0 1 6.2 -1.4a2.8 2.8 0 0 1 4.6 1.8a2.4 2.4 0 0 1 0.6 4.7z" fill="#e6ecf7" stroke="#46649e" stroke-width="1"/>
<g fill="none" stroke="#3a6fd8"><circle cx="193.1" cy="7.7" r="3.6" stroke-width="1" opacity="0.85"/><circle cx="193.1" cy="7.7" r="5.8" stroke-width="0.9" opacity="0.55"/><circle cx="193.1" cy="7.7" r="7.8" stroke-width="0.8" opacity="0.35"/></g>
<path d="M193.1 7.7L193.6 15.6A8 8 0 0 0 200.8 6z" fill="#5aa84a" opacity="0.55"/><circle cx="193" cy="7.4" r="1.9" fill="#1f4fd0"/><rect x="192.8" y="8" width="1.5" height="7.8" fill="#18a818"/>
<path d="M212.6 7.6L220 14.4L226 9L224 6.4z" fill="#f7d648" stroke="#c89a20" stroke-width="0.8"/>
<ellipse cx="219.8" cy="4.8" rx="7.8" ry="2.6" fill="#4aa6dc" stroke="#2f86bc" stroke-width="0.8"/><path d="M216 4.6c0-3 1.6-4.6 3.8-4.6s3.8 1.6 3.8 4.6z" fill="#6cbcec"/>
<circle cx="224.6" cy="11.6" r="4.1" fill="#e8260c"/><rect x="222.8" y="9.8" width="3.6" height="3.6" fill="#fff"/>
<text x="233.6" y="11.2" font-size="11.8" fill="#000" textLength="47.1" lengthAdjust="spacing" style="font-family:'Liberation Sans','Noto Sans CJK SC',sans-serif">自动交易</text>
<rect x="288" y="1" width="1" height="17" fill="#a0a0a0" shape-rendering="crispEdges"/>
<rect x="289" y="1" width="1" height="17" fill="#fff" shape-rendering="crispEdges"/>
<rect x="292" y="1" width="3" height="1" fill="#b4b4b4" shape-rendering="crispEdges"/>
<rect x="292" y="3" width="3" height="1" fill="#b4b4b4" shape-rendering="crispEdges"/>
<rect x="292" y="5" width="3" height="1" fill="#b4b4b4" shape-rendering="crispEdges"/>
<rect x="292" y="7" width="3" height="1" fill="#b4b4b4" shape-rendering="crispEdges"/>
<rect x="292" y="9" width="3" height="1" fill="#b4b4b4" shape-rendering="crispEdges"/>
<rect x="292" y="11" width="3" height="1" fill="#b4b4b4" shape-rendering="crispEdges"/>
<rect x="292" y="13" width="3" height="1" fill="#b4b4b4" shape-rendering="crispEdges"/>
<rect x="292" y="15" width="3" height="1" fill="#b4b4b4" shape-rendering="crispEdges"/>
<rect x="292" y="17" width="3" height="1" fill="#b4b4b4" shape-rendering="crispEdges"/>
<g stroke="#505050" stroke-width="1" fill="#505050" shape-rendering="crispEdges"><line x1="306.5" y1="3" x2="306.5" y2="16"/><line x1="304" y1="13.5" x2="317" y2="13.5"/></g>
<polygon points="306.5,1.5 304.5,4.5 308.5,4.5" fill="#505050"/><polygon points="318.5,13.5 315.5,11.5 315.5,15.5" fill="#505050"/>
<path d="M313.5 2v9M313.5 2.5h2M311.5 10.5h2" stroke="#1a9a1a" stroke-width="1.2" fill="none" shape-rendering="crispEdges"/>
<rect x="326" y="0" width="1" height="18" fill="#a0a0a0" shape-rendering="crispEdges"/>
<rect x="327" y="0" width="25" height="19" fill="#f8f8f8"/>
<g stroke="#505050" stroke-width="1" fill="#505050" shape-rendering="crispEdges"><line x1="334.5" y1="3" x2="334.5" y2="16"/><line x1="332" y1="13.5" x2="345" y2="13.5"/></g>
<polygon points="334.5,1.5 332.5,4.5 336.5,4.5" fill="#505050"/><polygon points="346.5,13.5 343.5,11.5 343.5,15.5" fill="#505050"/>
<rect x="340" y="0" width="1" height="12" fill="#0a7a0a" shape-rendering="crispEdges"/><rect x="338.2" y="2.5" width="4.6" height="7" fill="#22d022" stroke="#0a7a0a" stroke-width="0.9"/>
<g stroke="#505050" stroke-width="1" fill="#505050" shape-rendering="crispEdges"><line x1="362.5" y1="3" x2="362.5" y2="16"/><line x1="360" y1="13.5" x2="373" y2="13.5"/></g>
<polygon points="362.5,1.5 360.5,4.5 364.5,4.5" fill="#505050"/><polygon points="374.5,13.5 371.5,11.5 371.5,15.5" fill="#505050"/>
<path d="M361.5 10.5c2-4 4.5-6.5 6.5-5.5s3 2.500 4.500 4" stroke="#1a9a1a" stroke-width="1.3" fill="none"/>
<rect x="383" y="0" width="1" height="18" fill="#a0a0a0" shape-rendering="crispEdges"/>
<line x1="401.6" y1="9.6" x2="406.6" y2="14" stroke="#c8a018" stroke-width="2.8"/>
<circle cx="397.6" cy="5.8" r="5.1" fill="#cfe6fa" stroke="#2c7cd0" stroke-width="1.3"/>
<rect x="394.8" y="5.1" width="5.6" height="1.5" fill="#2c6cc0"/>
<rect x="396.85" y="3" width="1.5" height="5.6" fill="#2c6cc0"/>
<line x1="429.8" y1="9.6" x2="434.8" y2="14" stroke="#c8a018" stroke-width="2.8"/>
<circle cx="425.8" cy="5.8" r="5.1" fill="#cfe6fa" stroke="#2c7cd0" stroke-width="1.3"/>
<rect x="423.0" y="5.1" width="5.6" height="1.5" fill="#2c6cc0"/>
<rect x="448" y="0" width="7.6" height="7.4" rx="0.8" fill="#3aa03a"/><rect x="449.2" y="3" width="5.2" height="3.2" fill="#fff"/><rect x="450.2" y="4.6" width="3.2" height="1.6" fill="#3aa03a" opacity="0.7"/>
<rect x="456.4" y="0" width="7.6" height="7.4" rx="0.8" fill="#2a58c8"/><rect x="457.59999999999997" y="3" width="5.2" height="3.2" fill="#fff"/><rect x="458.59999999999997" y="4.6" width="3.2" height="1.6" fill="#2a58c8" opacity="0.7"/>
<rect x="448" y="7.8" width="7.6" height="7.4" rx="0.8" fill="#2a58c8"/><rect x="449.2" y="10.8" width="5.2" height="3.2" fill="#fff"/><rect x="450.2" y="12.399999999999999" width="3.2" height="1.6" fill="#2a58c8" opacity="0.7"/>
<rect x="456.4" y="7.8" width="7.6" height="7.4" rx="0.8" fill="#3aa03a"/><rect x="457.59999999999997" y="10.8" width="5.2" height="3.2" fill="#fff"/><rect x="458.59999999999997" y="12.399999999999999" width="3.2" height="1.6" fill="#3aa03a" opacity="0.7"/>
<rect x="473" y="0" width="1" height="18" fill="#a0a0a0" shape-rendering="crispEdges"/>
<rect x="478" y="0" width="1" height="18" fill="#a0a0a0" shape-rendering="crispEdges"/>
<rect x="479" y="0" width="25" height="19" fill="#f8f8f8"/>
<g stroke="#505050" stroke-width="1" fill="#505050" shape-rendering="crispEdges"><line x1="486.5" y1="3" x2="486.5" y2="16"/><line x1="484" y1="13.5" x2="497" y2="13.5"/></g>
<polygon points="486.5,1.5 484.5,4.5 488.5,4.5" fill="#505050"/><polygon points="498.5,13.5 495.5,11.5 495.5,15.5" fill="#505050"/>
<polygon points="491.5,4 491.5,10 495.5,7" fill="#2cc02c" stroke="#1a8a1a" stroke-width="0.6"/>
<rect x="506" y="0" width="1" height="18" fill="#a0a0a0" shape-rendering="crispEdges"/>
<rect x="507" y="0" width="25" height="19" fill="#f8f8f8"/>
<g stroke="#505050" stroke-width="1" fill="#505050" shape-rendering="crispEdges"><line x1="514.5" y1="3" x2="514.5" y2="16"/><line x1="512" y1="13.5" x2="525" y2="13.5"/></g>
<polygon points="514.5,1.5 512.5,4.5 516.5,4.5" fill="#505050"/><polygon points="526.5,13.5 523.5,11.5 523.5,15.5" fill="#505050"/>
<rect x="520" y="2" width="1" height="10" fill="#2060c0" shape-rendering="crispEdges"/><path d="M522 7.5h4.5M522 7.500l2.5-2.200M522 7.500l2.500 2.200" stroke="#d83010" stroke-width="1.1" fill="none"/>
<rect x="535" y="0" width="1" height="18" fill="#a0a0a0" shape-rendering="crispEdges"/>
<path d="M545.5 1.500h6l2.500 2.500v8.500h-8.500z" fill="#fff" stroke="#8a8a8a" stroke-width="1"/><path d="M548.5 3.500q-1.200 0-1.200 1.200v1.500q0 1-1 1q1 0 1 1v1.500q0 1.200 1.200 1.200" stroke="#555" stroke-width="0.9" fill="none"/>
<path d="M553.700 6.600h3.200v3.300h3.300v3.200h-3.300v3.300h-3.200v-3.300h-3.300v-3.200h3.300z" fill="#1fd21f" stroke="#0a8a0a" stroke-width="0.9"/>
<polygon points="566.5,7 573.0,7 569.75,10.5" fill="#000"/>
<circle cx="590.8" cy="7.600" r="6.700" fill="#f4f8ff" stroke="#1f6fd0" stroke-width="2.2"/><path d="M590.800 4v4h3" stroke="#444" stroke-width="1.100" fill="none"/>
<polygon points="605.5,7 612.0,7 608.75,10.5" fill="#000"/>
<rect x="622.500" y="1.500" width="15" height="12.500" fill="#fff" stroke="#2f78d0" stroke-width="1.200"/><rect x="622.500" y="1.500" width="15" height="2" fill="#2f78d0"/><rect x="623" y="8" width="14" height="0.800" fill="#88a8d8"/>
<path d="M624.500 6.800l3-1.200l3 0.500l3-1.500l3-0.300" stroke="#a03010" stroke-width="1.100" fill="none"/><path d="M624.500 12.300l3-1.200l2.500 0.800l3-1.800l3 1.800" stroke="#1a9a1a" stroke-width="1.100" fill="none"/>
<polygon points="644.5,7 651.0,7 647.75,10.5" fill="#000"/>
<rect x="656" y="1" width="1" height="17" fill="#a0a0a0" shape-rendering="crispEdges"/>
<rect x="657" y="1" width="1" height="17" fill="#fff" shape-rendering="crispEdges"/>
<rect x="660" y="1" width="3" height="1" fill="#b4b4b4" shape-rendering="crispEdges"/>
<rect x="660" y="3" width="3" height="1" fill="#b4b4b4" shape-rendering="crispEdges"/>
<rect x="660" y="5" width="3" height="1" fill="#b4b4b4" shape-rendering="crispEdges"/>
<rect x="660" y="7" width="3" height="1" fill="#b4b4b4" shape-rendering="crispEdges"/>
<rect x="660" y="9" width="3" height="1" fill="#b4b4b4" shape-rendering="crispEdges"/>
<rect x="660" y="11" width="3" height="1" fill="#b4b4b4" shape-rendering="crispEdges"/>
<rect x="660" y="13" width="3" height="1" fill="#b4b4b4" shape-rendering="crispEdges"/>
<rect x="660" y="15" width="3" height="1" fill="#b4b4b4" shape-rendering="crispEdges"/>
<rect x="660" y="17" width="3" height="1" fill="#b4b4b4" shape-rendering="crispEdges"/>
<rect x="667" y="0" width="25" height="19" fill="#f8f8f8"/>
<rect x="666" y="0" width="1" height="18" fill="#a0a0a0" shape-rendering="crispEdges"/>
<path d="M674.500 1v12.500l3-2.800l2.200 4.800l1.800-0.800l-2.200-4.700h4.200z" fill="#333"/>
<path d="M706.500 1v5.500M706.500 10v5.500M699 8.500h5.500M708.500 8.500h5.500" stroke="#444" stroke-width="1" fill="none" shape-rendering="crispEdges"/>
<rect x="723" y="0" width="1" height="18" fill="#a0a0a0" shape-rendering="crispEdges"/>
<rect x="740" y="2" width="1" height="13" fill="#444" shape-rendering="crispEdges"/>
<rect x="762" y="8" width="14" height="1" fill="#444" shape-rendering="crispEdges"/>
<line x1="791" y1="14.500" x2="803" y2="3" stroke="#444" stroke-width="1.100"/>
<path d="M817 12.500l12-8M817 9.500l12-8M819 14l2.500-9M823 11.500l2.500-9M827 9l2.500-9" stroke="#444" stroke-width="0.900" fill="none"/>
<text x="828.5" y="16.5" font-size="7" fill="#333" font-weight="bold">E</text>
<line x1="846" y1="1.5" x2="858.500" y2="1.5" stroke="#444" stroke-width="1" stroke-dasharray="1 1" shape-rendering="crispEdges"/>
<line x1="846" y1="4.5" x2="858.500" y2="4.5" stroke="#444" stroke-width="1" stroke-dasharray="1 1" shape-rendering="crispEdges"/>
<line x1="846" y1="8.5" x2="858.500" y2="8.5" stroke="#444" stroke-width="1" stroke-dasharray="1 1" shape-rendering="crispEdges"/>
<line x1="846" y1="12.5" x2="858.500" y2="12.5" stroke="#444" stroke-width="1" stroke-dasharray="1 1" shape-rendering="crispEdges"/>
<text x="856.5" y="16.5" font-size="7" fill="#333" font-weight="bold">F</text>
<text x="876.3" y="13.5" font-size="13" fill="#4a4a4a" font-weight="bold" textLength="9.500" lengthAdjust="spacingAndGlyphs">A</text>
<rect x="902.500" y="2.500" width="13" height="11" fill="none" stroke="#555" stroke-width="1" stroke-dasharray="1 1" shape-rendering="crispEdges"/>
<text x="904.8" y="12.5" font-size="11.5" fill="#4a4a4a" font-weight="bold">T</text>
<path d="M932 4.500l3-3l3 3zM936 8l3 3l3-3zM931 8l2.500 2.500l4-4" fill="#444" stroke="#444" stroke-width="0.800"/><path d="M938 10l2 2.500l3.500-1z" fill="#444"/>
<polygon points="950.5,7 957.0,7 953.75,10.5" fill="#000"/>
<rect x="962" y="1" width="1" height="17" fill="#a0a0a0" shape-rendering="crispEdges"/>
<rect x="963" y="1" width="1" height="17" fill="#fff" shape-rendering="crispEdges"/>
<rect x="966" y="1" width="3" height="1" fill="#b4b4b4" shape-rendering="crispEdges"/>
<rect x="966" y="3" width="3" height="1" fill="#b4b4b4" shape-rendering="crispEdges"/>
<rect x="966" y="5" width="3" height="1" fill="#b4b4b4" shape-rendering="crispEdges"/>
<rect x="966" y="7" width="3" height="1" fill="#b4b4b4" shape-rendering="crispEdges"/>
<rect x="966" y="9" width="3" height="1" fill="#b4b4b4" shape-rendering="crispEdges"/>
<rect x="966" y="11" width="3" height="1" fill="#b4b4b4" shape-rendering="crispEdges"/>
<rect x="966" y="13" width="3" height="1" fill="#b4b4b4" shape-rendering="crispEdges"/>
<rect x="966" y="15" width="3" height="1" fill="#b4b4b4" shape-rendering="crispEdges"/>
<rect x="966" y="17" width="3" height="1" fill="#b4b4b4" shape-rendering="crispEdges"/>
<rect x="1141" y="0" width="25" height="19" fill="#f8f8f8"/>
<rect x="1140" y="0" width="1" height="18" fill="#a0a0a0" shape-rendering="crispEdges"/>
<text x="977" y="11.300" font-size="9.500" fill="#404040" textLength="13.0" lengthAdjust="spacingAndGlyphs">M1</text>
<text x="1005.6" y="11.300" font-size="9.500" fill="#404040" textLength="13.0" lengthAdjust="spacingAndGlyphs">M5</text>
<text x="1031.4" y="11.300" font-size="9.500" fill="#404040" textLength="18.0" lengthAdjust="spacingAndGlyphs">M15</text>
<text x="1059.5" y="11.300" font-size="9.500" fill="#404040" textLength="18.0" lengthAdjust="spacingAndGlyphs">M30</text>
<text x="1090" y="11.300" font-size="9.500" fill="#404040" textLength="12.5" lengthAdjust="spacingAndGlyphs">H1</text>
<text x="1117.4" y="11.300" font-size="9.500" fill="#404040" textLength="12.6" lengthAdjust="spacingAndGlyphs">H4</text>
<text x="1146.5" y="11.300" font-size="9.500" fill="#404040" textLength="11.9" lengthAdjust="spacingAndGlyphs">D1</text>
<text x="1173.7" y="11.300" font-size="9.500" fill="#404040" textLength="14.9" lengthAdjust="spacingAndGlyphs">W1</text>
<text x="1200" y="11.300" font-size="9.500" fill="#404040" textLength="15.7" lengthAdjust="spacingAndGlyphs">MN</text>
<rect x="1223" y="0" width="1" height="18" fill="#a0a0a0" shape-rendering="crispEdges"/>
<line x1="1690.500" y1="8.600" x2="1686" y2="12.800" stroke="#2258d8" stroke-width="2.600" stroke-linecap="round"/><circle cx="1693.500" cy="5.500" r="4" fill="#f4f4ff" stroke="#2258d8" stroke-width="1.300"/>
<path d="M1728 10.500l2 2.200l-0.300-2.600z" fill="#666"/><ellipse cx="1726" cy="5.200" rx="6.500" ry="4.900" fill="#f6f6f8" stroke="#9c9c9c" stroke-width="0.900"/>
<path d="M1714.500 12.800l0 2.200l2.200-2z" fill="#666"/><ellipse cx="1717.400" cy="9.300" rx="5" ry="3.800" fill="#f6f6f8" stroke="#9c9c9c" stroke-width="0.900"/>
</g>
</svg>
</body></html>
